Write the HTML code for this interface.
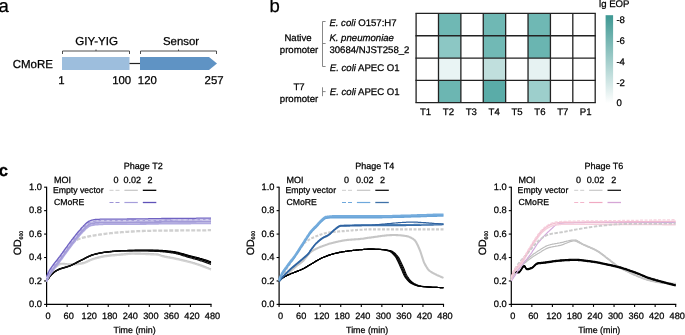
<!DOCTYPE html>
<html><head><meta charset="utf-8"><style>
html,body{margin:0;padding:0;background:#fff;width:685px;height:335px;overflow:hidden}
svg{display:block;will-change:transform}
text{font-family:"Liberation Sans",sans-serif;text-rendering:geometricPrecision;stroke:currentColor;stroke-width:0.25px;stroke-linejoin:round}
</style></head><body>
<svg width="685" height="335" viewBox="0 0 685 335">
<rect width="685" height="335" fill="#fff"/>
<text x="-1.5" y="12" font-size="18.5" text-anchor="start" fill="#000" >a</text>
<text x="52.9" y="68.4" font-size="11.5" text-anchor="end" fill="#000" >CMoRE</text>
<rect x="62" y="57" width="67.5" height="13" fill="#9dbedd"/>
<line x1="129.5" y1="63.5" x2="140" y2="63.5" stroke="#222" stroke-width="1.2" />
<path d="M140,57 H209 L217,63.5 L209,70 H140 Z" fill="#5f93c4"/>
<path d="M62.5,54 V51 H129.5 V54 M96,51 V49.5" fill="none" stroke="#3a3a3a" stroke-width="0.9"/>
<path d="M140.5,54 V51 H216.5 V54 M178.5,51 V49.5" fill="none" stroke="#3a3a3a" stroke-width="0.9"/>
<text x="96.6" y="45.1" font-size="11.6" text-anchor="middle" fill="#000" >GIY-YIG</text>
<text x="181" y="45.1" font-size="11.4" text-anchor="middle" fill="#000" >Sensor</text>
<text x="61.5" y="84.1" font-size="11.4" text-anchor="middle" fill="#000" >1</text>
<text x="131.2" y="84.1" font-size="11.4" text-anchor="end" fill="#000" >100</text>
<text x="137.8" y="84.1" font-size="11.4" text-anchor="start" fill="#000" >120</text>
<text x="223.6" y="84.1" font-size="11.4" text-anchor="end" fill="#000" >257</text>
<text x="269.5" y="12.2" font-size="18.5" text-anchor="start" fill="#000" >b</text>
<text x="298" y="41.2" font-size="9.6" text-anchor="middle" fill="#000" >Native</text>
<text x="299" y="53.4" font-size="9.6" text-anchor="middle" fill="#000" >promoter</text>
<text x="299" y="90.3" font-size="9.6" text-anchor="middle" fill="#000" >T7</text>
<text x="299" y="102" font-size="9.6" text-anchor="middle" fill="#000" >promoter</text>
<path d="M325.6,21.5 H322.5 V66.5 H325.6 M322.5,43.5 H325.6 M322.5,87.3 V96.2 M322.5,91.6 H325.6" fill="none" stroke="#7a7a7a" stroke-width="0.9"/>
<text x="329.4" y="26.3" font-size="9.6"><tspan font-style="italic">E. coli</tspan> O157:H7</text>
<text x="329.4" y="41.0" font-size="9.6" font-style="italic">K. pneumoniae</text>
<text x="329.4" y="53.0" font-size="9.6">30684/NJST258_2</text>
<text x="329.8" y="70.6" font-size="9.6"><tspan font-style="italic">E. coli</tspan> APEC O1</text>
<text x="329.8" y="94.8" font-size="9.6"><tspan font-style="italic">E. coli</tspan> APEC O1</text>
<rect x="438.49" y="13.40" width="22.39" height="22.32" fill="#6fb8b4"/>
<rect x="438.49" y="35.73" width="22.39" height="22.32" fill="#8cc7c4"/>
<rect x="438.49" y="58.05" width="22.39" height="22.32" fill="#e9f4f4"/>
<rect x="438.49" y="80.38" width="22.39" height="22.32" fill="#6cb6b2"/>
<rect x="483.26" y="13.40" width="22.39" height="22.32" fill="#6fb8b4"/>
<rect x="483.26" y="35.73" width="22.39" height="22.32" fill="#71b9b5"/>
<rect x="483.26" y="58.05" width="22.39" height="22.32" fill="#c0dfdd"/>
<rect x="483.26" y="80.38" width="22.39" height="22.32" fill="#5aaca8"/>
<rect x="528.04" y="13.40" width="22.39" height="22.32" fill="#6fb8b4"/>
<rect x="528.04" y="35.73" width="22.39" height="22.32" fill="#6ab5b1"/>
<rect x="528.04" y="58.05" width="22.39" height="22.32" fill="#e6f2f2"/>
<rect x="528.04" y="80.38" width="22.39" height="22.32" fill="#9dcfcc"/>
<line x1="416.10" y1="13.4" x2="416.10" y2="102.7" stroke="#222" stroke-width="1.3" />
<line x1="438.49" y1="13.4" x2="438.49" y2="102.7" stroke="#222" stroke-width="1.3" />
<line x1="460.88" y1="13.4" x2="460.88" y2="102.7" stroke="#222" stroke-width="1.3" />
<line x1="483.26" y1="13.4" x2="483.26" y2="102.7" stroke="#222" stroke-width="1.3" />
<line x1="505.65" y1="13.4" x2="505.65" y2="102.7" stroke="#222" stroke-width="1.3" />
<line x1="528.04" y1="13.4" x2="528.04" y2="102.7" stroke="#222" stroke-width="1.3" />
<line x1="550.43" y1="13.4" x2="550.43" y2="102.7" stroke="#222" stroke-width="1.3" />
<line x1="572.81" y1="13.4" x2="572.81" y2="102.7" stroke="#222" stroke-width="1.3" />
<line x1="595.20" y1="13.4" x2="595.20" y2="102.7" stroke="#222" stroke-width="1.3" />
<line x1="415.45000000000005" y1="13.40" x2="595.85" y2="13.40" stroke="#222" stroke-width="1.3" />
<line x1="415.45000000000005" y1="35.73" x2="595.85" y2="35.73" stroke="#222" stroke-width="1.3" />
<line x1="415.45000000000005" y1="58.05" x2="595.85" y2="58.05" stroke="#222" stroke-width="1.3" />
<line x1="415.45000000000005" y1="80.38" x2="595.85" y2="80.38" stroke="#222" stroke-width="1.3" />
<line x1="415.45000000000005" y1="102.70" x2="595.85" y2="102.70" stroke="#222" stroke-width="1.3" />
<text x="425.50" y="114.5" font-size="9.6" text-anchor="middle" fill="#000" >T1</text>
<text x="448.39" y="114.5" font-size="9.6" text-anchor="middle" fill="#000" >T2</text>
<text x="471.28" y="114.5" font-size="9.6" text-anchor="middle" fill="#000" >T3</text>
<text x="494.17" y="114.5" font-size="9.6" text-anchor="middle" fill="#000" >T4</text>
<text x="517.06" y="114.5" font-size="9.6" text-anchor="middle" fill="#000" >T5</text>
<text x="539.95" y="114.5" font-size="9.6" text-anchor="middle" fill="#000" >T6</text>
<text x="562.84" y="114.5" font-size="9.6" text-anchor="middle" fill="#000" >T7</text>
<text x="585.73" y="114.5" font-size="9.6" text-anchor="middle" fill="#000" >P1</text>
<defs><linearGradient id="cb" x1="0" y1="0" x2="0" y2="1"><stop offset="0" stop-color="#3e9893"/><stop offset="1" stop-color="#ffffff"/></linearGradient></defs>
<rect x="605.6" y="15.2" width="7.5" height="88" fill="url(#cb)"/>
<text x="616.4" y="23.1" font-size="9.6" text-anchor="start" fill="#000" >-8</text>
<text x="616.4" y="43.9" font-size="9.6" text-anchor="start" fill="#000" >-6</text>
<text x="616.4" y="64.7" font-size="9.6" text-anchor="start" fill="#000" >-4</text>
<text x="616.4" y="85.5" font-size="9.6" text-anchor="start" fill="#000" >-2</text>
<text x="616.4" y="106.3" font-size="9.6" text-anchor="start" fill="#000" >0</text>
<text x="599" y="7.1" font-size="9.6" text-anchor="start" fill="#000" >lg EOP</text>
<text x="-1.3" y="175.8" font-size="16.8" text-anchor="start" fill="#000" font-weight="bold">c</text>
<line x1="46.6" y1="186.7" x2="46.6" y2="305.0" stroke="#000" stroke-width="1.2" />
<line x1="46.0" y1="304.4" x2="211.6" y2="304.4" stroke="#000" stroke-width="1.2" />
<line x1="44.1" y1="304.40" x2="46.6" y2="304.40" stroke="#000" stroke-width="1.1" />
<text x="42.0" y="307.10" font-size="9.3" text-anchor="end" fill="#000" >0.0</text>
<line x1="44.1" y1="280.96" x2="46.6" y2="280.96" stroke="#000" stroke-width="1.1" />
<text x="42.0" y="283.66" font-size="9.3" text-anchor="end" fill="#000" >0.2</text>
<line x1="44.1" y1="257.52" x2="46.6" y2="257.52" stroke="#000" stroke-width="1.1" />
<text x="42.0" y="260.22" font-size="9.3" text-anchor="end" fill="#000" >0.4</text>
<line x1="44.1" y1="234.08" x2="46.6" y2="234.08" stroke="#000" stroke-width="1.1" />
<text x="42.0" y="236.78" font-size="9.3" text-anchor="end" fill="#000" >0.6</text>
<line x1="44.1" y1="210.64" x2="46.6" y2="210.64" stroke="#000" stroke-width="1.1" />
<text x="42.0" y="213.34" font-size="9.3" text-anchor="end" fill="#000" >0.8</text>
<line x1="44.1" y1="187.20" x2="46.6" y2="187.20" stroke="#000" stroke-width="1.1" />
<text x="42.0" y="189.90" font-size="9.3" text-anchor="end" fill="#000" >1.0</text>
<line x1="46.60" y1="304.4" x2="46.60" y2="306.9" stroke="#000" stroke-width="1.1" />
<text x="48.10" y="318.8" font-size="9.2" text-anchor="middle" fill="#000" >0</text>
<line x1="67.15" y1="304.4" x2="67.15" y2="306.9" stroke="#000" stroke-width="1.1" />
<text x="68.65" y="318.8" font-size="9.2" text-anchor="middle" fill="#000" >60</text>
<line x1="87.70" y1="304.4" x2="87.70" y2="306.9" stroke="#000" stroke-width="1.1" />
<text x="89.20" y="318.8" font-size="9.2" text-anchor="middle" fill="#000" >120</text>
<line x1="108.25" y1="304.4" x2="108.25" y2="306.9" stroke="#000" stroke-width="1.1" />
<text x="109.75" y="318.8" font-size="9.2" text-anchor="middle" fill="#000" >180</text>
<line x1="128.80" y1="304.4" x2="128.80" y2="306.9" stroke="#000" stroke-width="1.1" />
<text x="130.30" y="318.8" font-size="9.2" text-anchor="middle" fill="#000" >240</text>
<line x1="149.35" y1="304.4" x2="149.35" y2="306.9" stroke="#000" stroke-width="1.1" />
<text x="150.85" y="318.8" font-size="9.2" text-anchor="middle" fill="#000" >300</text>
<line x1="169.90" y1="304.4" x2="169.90" y2="306.9" stroke="#000" stroke-width="1.1" />
<text x="171.40" y="318.8" font-size="9.2" text-anchor="middle" fill="#000" >360</text>
<line x1="190.45" y1="304.4" x2="190.45" y2="306.9" stroke="#000" stroke-width="1.1" />
<text x="191.95" y="318.8" font-size="9.2" text-anchor="middle" fill="#000" >420</text>
<line x1="211.00" y1="304.4" x2="211.00" y2="306.9" stroke="#000" stroke-width="1.1" />
<text x="212.50" y="318.8" font-size="9.2" text-anchor="middle" fill="#000" >480</text>
<text x="134.60" y="333" font-size="8.9" text-anchor="middle" fill="#000" >Time (min)</text>
<text transform="translate(21.0,255.3) rotate(-90)" font-size="10.6">OD<tspan font-size="5.2" dy="1.8">600</tspan></text>
<path d="M46.6,281.0 L47.3,279.5 L48.0,278.0 L48.7,276.5 L49.3,275.1 L50.0,273.9 L50.7,272.9 L51.4,271.9 L52.1,270.9 L52.8,269.9 L53.5,269.1 L54.1,268.2 L54.8,267.5 L55.5,266.8 L56.2,266.2 L56.9,265.7 L57.6,265.3 L58.2,264.8 L58.9,264.4 L59.6,264.0 L60.3,263.7 L61.0,263.5 L61.7,263.5 L62.4,263.5 L63.0,263.6 L63.7,263.6 L64.4,263.7 L65.1,263.8 L65.8,263.9 L66.5,263.9 L67.2,264.0 L67.8,264.1 L68.5,264.2 L69.2,264.2 L69.9,264.2 L70.6,264.2 L71.3,264.2 L71.9,264.2 L72.6,264.1 L73.3,264.1 L74.0,264.0 L74.7,264.0 L75.4,263.9 L76.1,263.9 L76.7,263.8 L77.4,263.7 L78.1,263.6 L78.8,263.6 L79.5,263.5 L80.2,263.4 L80.8,263.3 L81.5,263.2 L82.2,263.1 L82.9,262.9 L83.6,262.8 L84.3,262.5 L85.0,262.3 L85.6,262.0 L86.3,261.7 L87.0,261.4 L87.7,261.1 L88.4,260.8 L89.1,260.4 L89.8,260.1 L90.4,259.8 L91.1,259.5 L91.8,259.2 L92.5,258.9 L93.2,258.7 L93.9,258.5 L94.6,258.3 L95.2,258.1 L95.9,257.9 L96.6,257.7 L97.3,257.5 L98.0,257.3 L98.7,257.2 L99.3,257.0 L100.0,256.9 L100.7,256.7 L101.4,256.5 L102.1,256.4 L102.8,256.3 L103.5,256.1 L104.1,256.0 L104.8,255.9 L105.5,255.8 L106.2,255.7 L106.9,255.6 L107.6,255.5 L108.2,255.5 L108.9,255.4 L109.6,255.3 L110.3,255.2 L111.0,255.1 L111.7,255.1 L112.4,255.0 L113.0,254.9 L113.7,254.9 L114.4,254.8 L115.1,254.8 L115.8,254.7 L116.5,254.6 L117.2,254.6 L117.8,254.5 L118.5,254.5 L119.2,254.4 L119.9,254.4 L120.6,254.3 L121.3,254.2 L122.0,254.2 L122.6,254.1 L123.3,254.1 L124.0,254.0 L124.7,253.9 L125.4,253.9 L126.1,253.8 L126.7,253.7 L127.4,253.6 L128.1,253.6 L128.8,253.5 L129.5,253.4 L130.2,253.4 L130.9,253.3 L131.5,253.3 L132.2,253.3 L132.9,253.3 L133.6,253.3 L134.3,253.3 L135.0,253.3 L135.7,253.3 L136.3,253.3 L137.0,253.4 L137.7,253.4 L138.4,253.4 L139.1,253.4 L139.8,253.4 L140.4,253.4 L141.1,253.5 L141.8,253.5 L142.5,253.5 L143.2,253.5 L143.9,253.6 L144.6,253.6 L145.2,253.6 L145.9,253.6 L146.6,253.7 L147.3,253.7 L148.0,253.7 L148.7,253.7 L149.4,253.8 L150.0,253.8 L150.7,253.8 L151.4,253.8 L152.1,253.9 L152.8,253.9 L153.5,253.9 L154.1,254.0 L154.8,254.0 L155.5,254.0 L156.2,254.1 L156.9,254.1 L157.6,254.2 L158.3,254.3 L158.9,254.5 L159.6,254.7 L160.3,255.0 L161.0,255.3 L161.7,255.5 L162.4,255.8 L163.1,255.9 L163.7,256.1 L164.4,256.2 L165.1,256.4 L165.8,256.5 L166.5,256.6 L167.2,256.8 L167.8,256.9 L168.5,257.0 L169.2,257.1 L169.9,257.2 L170.6,257.4 L171.3,257.5 L172.0,257.6 L172.6,257.8 L173.3,257.9 L174.0,258.0 L174.7,258.2 L175.4,258.3 L176.1,258.5 L176.8,258.6 L177.4,258.8 L178.1,258.9 L178.8,259.1 L179.5,259.2 L180.2,259.4 L180.9,259.5 L181.5,259.7 L182.2,259.8 L182.9,260.0 L183.6,260.2 L184.3,260.3 L185.0,260.5 L185.7,260.7 L186.3,260.8 L187.0,261.0 L187.7,261.2 L188.4,261.4 L189.1,261.5 L189.8,261.7 L190.5,261.9 L191.1,262.1 L191.8,262.3 L192.5,262.5 L193.2,262.7 L193.9,262.9 L194.6,263.1 L195.2,263.3 L195.9,263.5 L196.6,263.8 L197.3,264.0 L198.0,264.2 L198.7,264.4 L199.4,264.7 L200.0,264.9 L200.7,265.1 L201.4,265.4 L202.1,265.6 L202.8,265.9 L203.5,266.1 L204.2,266.4 L204.8,266.7 L205.5,266.9 L206.2,267.2 L206.9,267.5 L207.6,267.7 L208.3,268.0 L208.9,268.3 L209.6,268.6 L210.3,268.8 L211.0,269.1" fill="none" stroke="#c8c8c8" stroke-width="1.7" stroke-linejoin="round" />
<path d="M46.6,281.9 L47.3,280.4 L48.0,278.9 L48.7,277.4 L49.3,276.1 L50.0,274.9 L50.7,273.8 L51.4,272.8 L52.1,271.8 L52.8,270.9 L53.5,270.0 L54.1,269.2 L54.8,268.4 L55.5,267.8 L56.2,267.2 L56.9,266.7 L57.6,266.2 L58.2,265.7 L58.9,265.3 L59.6,264.9 L60.3,264.7 L61.0,264.5 L61.7,264.4 L62.4,264.5 L63.0,264.5 L63.7,264.6 L64.4,264.6 L65.1,264.7 L65.8,264.8 L66.5,264.9 L67.2,265.0 L67.8,265.0 L68.5,265.1 L69.2,265.1 L69.9,265.1 L70.6,265.1 L71.3,265.1 L71.9,265.1 L72.6,265.1 L73.3,265.0 L74.0,265.0 L74.7,264.9 L75.4,264.9 L76.1,264.8 L76.7,264.7 L77.4,264.7 L78.1,264.6 L78.8,264.5 L79.5,264.4 L80.2,264.3 L80.8,264.2 L81.5,264.1 L82.2,264.0 L82.9,263.9 L83.6,263.7 L84.3,263.5 L85.0,263.2 L85.6,263.0 L86.3,262.7 L87.0,262.4 L87.7,262.0 L88.4,261.7 L89.1,261.4 L89.8,261.0 L90.4,260.7 L91.1,260.4 L91.8,260.1 L92.5,259.9 L93.2,259.6 L93.9,259.4 L94.6,259.2 L95.2,259.0 L95.9,258.8 L96.6,258.6 L97.3,258.5 L98.0,258.3 L98.7,258.1 L99.3,257.9 L100.0,257.8 L100.7,257.6 L101.4,257.5 L102.1,257.3 L102.8,257.2 L103.5,257.1 L104.1,257.0 L104.8,256.9 L105.5,256.7 L106.2,256.7 L106.9,256.6 L107.6,256.5 L108.2,256.4 L108.9,256.3 L109.6,256.2 L110.3,256.2 L111.0,256.1 L111.7,256.0 L112.4,255.9 L113.0,255.9 L113.7,255.8 L114.4,255.8 L115.1,255.7 L115.8,255.6 L116.5,255.6 L117.2,255.5 L117.8,255.5 L118.5,255.4 L119.2,255.3 L119.9,255.3 L120.6,255.2 L121.3,255.2 L122.0,255.1 L122.6,255.1 L123.3,255.0 L124.0,254.9 L124.7,254.9 L125.4,254.8 L126.1,254.7 L126.7,254.6 L127.4,254.6 L128.1,254.5 L128.8,254.4 L129.5,254.4 L130.2,254.3 L130.9,254.3 L131.5,254.2 L132.2,254.2 L132.9,254.2 L133.6,254.2 L134.3,254.2 L135.0,254.3 L135.7,254.3 L136.3,254.3 L137.0,254.3 L137.7,254.3 L138.4,254.3 L139.1,254.3 L139.8,254.4 L140.4,254.4 L141.1,254.4 L141.8,254.4 L142.5,254.4 L143.2,254.5 L143.9,254.5 L144.6,254.5 L145.2,254.5 L145.9,254.6 L146.6,254.6 L147.3,254.6 L148.0,254.7 L148.7,254.7 L149.4,254.7 L150.0,254.7 L150.7,254.8 L151.4,254.8 L152.1,254.8 L152.8,254.8 L153.5,254.9 L154.1,254.9 L154.8,254.9 L155.5,255.0 L156.2,255.0 L156.9,255.1 L157.6,255.1 L158.3,255.2 L158.9,255.4 L159.6,255.6 L160.3,255.9 L161.0,256.2 L161.7,256.5 L162.4,256.7 L163.1,256.9 L163.7,257.0 L164.4,257.2 L165.1,257.3 L165.8,257.4 L166.5,257.6 L167.2,257.7 L167.8,257.8 L168.5,257.9 L169.2,258.1 L169.9,258.2 L170.6,258.3 L171.3,258.4 L172.0,258.6 L172.6,258.7 L173.3,258.8 L174.0,259.0 L174.7,259.1 L175.4,259.3 L176.1,259.4 L176.8,259.6 L177.4,259.7 L178.1,259.9 L178.8,260.0 L179.5,260.2 L180.2,260.3 L180.9,260.5 L181.5,260.6 L182.2,260.8 L182.9,260.9 L183.6,261.1 L184.3,261.3 L185.0,261.4 L185.7,261.6 L186.3,261.8 L187.0,261.9 L187.7,262.1 L188.4,262.3 L189.1,262.5 L189.8,262.7 L190.5,262.8 L191.1,263.0 L191.8,263.2 L192.5,263.4 L193.2,263.6 L193.9,263.8 L194.6,264.0 L195.2,264.3 L195.9,264.5 L196.6,264.7 L197.3,264.9 L198.0,265.1 L198.7,265.4 L199.4,265.6 L200.0,265.8 L200.7,266.1 L201.4,266.3 L202.1,266.6 L202.8,266.8 L203.5,267.1 L204.2,267.3 L204.8,267.6 L205.5,267.9 L206.2,268.1 L206.9,268.4 L207.6,268.7 L208.3,269.0 L208.9,269.2 L209.6,269.5 L210.3,269.8 L211.0,270.0" fill="none" stroke="#d4d4d4" stroke-width="1.2" stroke-linejoin="round" />
<path d="M46.6,278.6 L47.3,277.2 L48.0,275.7 L48.7,274.5 L49.3,273.4 L50.0,272.3 L50.7,271.3 L51.4,270.4 L52.1,269.4 L52.8,268.5 L53.5,267.7 L54.1,266.8 L54.8,266.0 L55.5,265.1 L56.2,264.3 L56.9,263.4 L57.6,262.6 L58.2,261.7 L58.9,260.8 L59.6,259.9 L60.3,258.9 L61.0,257.9 L61.7,256.9 L62.4,255.8 L63.0,254.7 L63.7,253.7 L64.4,252.6 L65.1,251.6 L65.8,250.6 L66.5,249.6 L67.2,248.6 L67.8,247.7 L68.5,246.9 L69.2,246.2 L69.9,245.5 L70.6,244.8 L71.3,244.1 L71.9,243.5 L72.6,242.9 L73.3,242.3 L74.0,241.7 L74.7,241.2 L75.4,240.7 L76.1,240.3 L76.7,239.9 L77.4,239.6 L78.1,239.3 L78.8,239.0 L79.5,238.8 L80.2,238.5 L80.8,238.3 L81.5,238.1 L82.2,237.9 L82.9,237.7 L83.6,237.6 L84.3,237.4 L85.0,237.2 L85.6,237.1 L86.3,236.9 L87.0,236.8 L87.7,236.6 L88.4,236.5 L89.1,236.4 L89.8,236.2 L90.4,236.1 L91.1,236.0 L91.8,235.8 L92.5,235.7 L93.2,235.6 L93.9,235.5 L94.6,235.4 L95.2,235.3 L95.9,235.1 L96.6,235.0 L97.3,234.9 L98.0,234.8 L98.7,234.7 L99.3,234.6 L100.0,234.5 L100.7,234.5 L101.4,234.4 L102.1,234.3 L102.8,234.2 L103.5,234.1 L104.1,234.0 L104.8,233.9 L105.5,233.8 L106.2,233.7 L106.9,233.6 L107.6,233.6 L108.2,233.5 L108.9,233.4 L109.6,233.3 L110.3,233.2 L111.0,233.2 L111.7,233.1 L112.4,233.0 L113.0,232.9 L113.7,232.9 L114.4,232.8 L115.1,232.7 L115.8,232.7 L116.5,232.6 L117.2,232.5 L117.8,232.5 L118.5,232.4 L119.2,232.4 L119.9,232.3 L120.6,232.3 L121.3,232.2 L122.0,232.2 L122.6,232.1 L123.3,232.1 L124.0,232.0 L124.7,232.0 L125.4,231.9 L126.1,231.9 L126.7,231.8 L127.4,231.8 L128.1,231.8 L128.8,231.7 L129.5,231.7 L130.2,231.6 L130.9,231.6 L131.5,231.5 L132.2,231.5 L132.9,231.5 L133.6,231.4 L134.3,231.4 L135.0,231.3 L135.7,231.3 L136.3,231.3 L137.0,231.2 L137.7,231.2 L138.4,231.2 L139.1,231.1 L139.8,231.1 L140.4,231.1 L141.1,231.0 L141.8,231.0 L142.5,231.0 L143.2,231.0 L143.9,230.9 L144.6,230.9 L145.2,230.9 L145.9,230.9 L146.6,230.9 L147.3,230.8 L148.0,230.8 L148.7,230.8 L149.4,230.8 L150.0,230.8 L150.7,230.8 L151.4,230.8 L152.1,230.8 L152.8,230.7 L153.5,230.7 L154.1,230.7 L154.8,230.7 L155.5,230.7 L156.2,230.7 L156.9,230.7 L157.6,230.7 L158.3,230.7 L158.9,230.7 L159.6,230.6 L160.3,230.6 L161.0,230.6 L161.7,230.6 L162.4,230.6 L163.1,230.6 L163.7,230.6 L164.4,230.6 L165.1,230.6 L165.8,230.6 L166.5,230.6 L167.2,230.6 L167.8,230.6 L168.5,230.5 L169.2,230.5 L169.9,230.5 L170.6,230.5 L171.3,230.5 L172.0,230.5 L172.6,230.5 L173.3,230.5 L174.0,230.5 L174.7,230.5 L175.4,230.5 L176.1,230.5 L176.8,230.5 L177.4,230.5 L178.1,230.5 L178.8,230.5 L179.5,230.4 L180.2,230.4 L180.9,230.4 L181.5,230.4 L182.2,230.4 L182.9,230.4 L183.6,230.4 L184.3,230.4 L185.0,230.4 L185.7,230.4 L186.3,230.4 L187.0,230.4 L187.7,230.4 L188.4,230.4 L189.1,230.4 L189.8,230.4 L190.5,230.4 L191.1,230.4 L191.8,230.4 L192.5,230.4 L193.2,230.4 L193.9,230.3 L194.6,230.3 L195.2,230.3 L195.9,230.3 L196.6,230.3 L197.3,230.3 L198.0,230.3 L198.7,230.3 L199.4,230.3 L200.0,230.3 L200.7,230.3 L201.4,230.3 L202.1,230.3 L202.8,230.3 L203.5,230.3 L204.2,230.3 L204.8,230.3 L205.5,230.3 L206.2,230.3 L206.9,230.2 L207.6,230.2 L208.3,230.2 L208.9,230.2 L209.6,230.2 L210.3,230.2 L211.0,230.2" fill="none" stroke="#d0d0d0" stroke-width="2.3" stroke-linejoin="round" stroke-dasharray="4,1.5"/>
<path d="M48.0,279.2 L48.7,278.1 L49.3,277.0 L50.0,276.2 L50.7,275.4 L51.4,274.7 L52.1,274.0 L52.8,273.4 L53.5,272.8 L54.1,272.2 L54.8,271.7 L55.5,271.2 L56.2,270.8 L56.9,270.4 L57.6,270.0 L58.2,269.7 L58.9,269.4 L59.6,269.1 L60.3,268.8 L61.0,268.6 L61.7,268.4 L62.4,268.1 L63.0,267.9 L63.7,267.8 L64.4,267.6 L65.1,267.4 L65.8,267.2 L66.5,267.0 L67.2,266.8 L67.8,266.6 L68.5,266.3 L69.2,266.1 L69.9,265.8 L70.6,265.6 L71.3,265.3 L71.9,264.9 L72.6,264.6 L73.3,264.3 L74.0,263.9 L74.7,263.6 L75.4,263.2 L76.1,262.9 L76.7,262.5 L77.4,262.1 L78.1,261.8 L78.8,261.4 L79.5,261.1 L80.2,260.7 L80.8,260.4 L81.5,260.0 L82.2,259.7 L82.9,259.4 L83.6,259.0 L84.3,258.7 L85.0,258.3 L85.6,258.0 L86.3,257.6 L87.0,257.3 L87.7,257.0 L88.4,256.6 L89.1,256.3 L89.8,256.0 L90.4,255.7 L91.1,255.4 L91.8,255.1 L92.5,254.9 L93.2,254.7 L93.9,254.5 L94.6,254.3 L95.2,254.1 L95.9,253.9 L96.6,253.8 L97.3,253.6 L98.0,253.5 L98.7,253.3 L99.3,253.2 L100.0,253.0 L100.7,252.9 L101.4,252.8 L102.1,252.7 L102.8,252.6 L103.5,252.5 L104.1,252.4 L104.8,252.3 L105.5,252.2 L106.2,252.1 L106.9,252.0 L107.6,251.9 L108.2,251.9 L108.9,251.8 L109.6,251.7 L110.3,251.6 L111.0,251.6 L111.7,251.5 L112.4,251.4 L113.0,251.4 L113.7,251.3 L114.4,251.2 L115.1,251.2 L115.8,251.1 L116.5,251.1 L117.2,251.0 L117.8,251.0 L118.5,250.9 L119.2,250.9 L119.9,250.8 L120.6,250.8 L121.3,250.7 L122.0,250.7 L122.6,250.7 L123.3,250.6 L124.0,250.6 L124.7,250.6 L125.4,250.6 L126.1,250.5 L126.7,250.5 L127.4,250.5 L128.1,250.5 L128.8,250.4 L129.5,250.4 L130.2,250.4 L130.9,250.4 L131.5,250.3 L132.2,250.3 L132.9,250.3 L133.6,250.3 L134.3,250.3 L135.0,250.2 L135.7,250.2 L136.3,250.2 L137.0,250.2 L137.7,250.2 L138.4,250.2 L139.1,250.2 L139.8,250.2 L140.4,250.2 L141.1,250.2 L141.8,250.2 L142.5,250.2 L143.2,250.2 L143.9,250.2 L144.6,250.2 L145.2,250.2 L145.9,250.2 L146.6,250.2 L147.3,250.2 L148.0,250.2 L148.7,250.2 L149.4,250.2 L150.0,250.2 L150.7,250.2 L151.4,250.2 L152.1,250.2 L152.8,250.2 L153.5,250.2 L154.1,250.2 L154.8,250.2 L155.5,250.2 L156.2,250.2 L156.9,250.2 L157.6,250.2 L158.3,250.2 L158.9,250.3 L159.6,250.3 L160.3,250.3 L161.0,250.3 L161.7,250.4 L162.4,250.4 L163.1,250.5 L163.7,250.5 L164.4,250.6 L165.1,250.6 L165.8,250.7 L166.5,250.8 L167.2,250.8 L167.8,250.9 L168.5,251.0 L169.2,251.0 L169.9,251.1 L170.6,251.2 L171.3,251.3 L172.0,251.3 L172.6,251.4 L173.3,251.5 L174.0,251.6 L174.7,251.7 L175.4,251.8 L176.1,252.0 L176.8,252.1 L177.4,252.3 L178.1,252.4 L178.8,252.6 L179.5,252.8 L180.2,253.0 L180.9,253.2 L181.5,253.3 L182.2,253.5 L182.9,253.7 L183.6,253.9 L184.3,254.1 L185.0,254.3 L185.7,254.5 L186.3,254.7 L187.0,254.9 L187.7,255.1 L188.4,255.3 L189.1,255.5 L189.8,255.6 L190.5,255.8 L191.1,256.0 L191.8,256.2 L192.5,256.3 L193.2,256.5 L193.9,256.7 L194.6,256.8 L195.2,257.0 L195.9,257.2 L196.6,257.4 L197.3,257.5 L198.0,257.7 L198.7,257.9 L199.4,258.1 L200.0,258.3 L200.7,258.5 L201.4,258.7 L202.1,258.9 L202.8,259.1 L203.5,259.3 L204.2,259.5 L204.8,259.7 L205.5,259.9 L206.2,260.2 L206.9,260.4 L207.6,260.6 L208.3,260.8 L208.9,261.1 L209.6,261.3 L210.3,261.5 L211.0,261.7" fill="none" stroke="#000" stroke-width="1.2" stroke-linejoin="round" />
<path d="M48.0,279.2 L48.7,278.1 L49.3,277.0 L50.0,276.2 L50.7,275.4 L51.4,274.7 L52.1,274.0 L52.8,273.4 L53.5,272.8 L54.1,272.2 L54.8,271.7 L55.5,271.2 L56.2,270.8 L56.9,270.4 L57.6,270.0 L58.2,269.7 L58.9,269.4 L59.6,269.1 L60.3,268.8 L61.0,268.6 L61.7,268.4 L62.4,268.1 L63.0,267.9 L63.7,267.8 L64.4,267.6 L65.1,267.4 L65.8,267.2 L66.5,267.0 L67.2,266.8 L67.8,266.6 L68.5,266.3 L69.2,266.1 L69.9,265.8 L70.6,265.6 L71.3,265.3 L71.9,264.9 L72.6,264.6 L73.3,264.3 L74.0,263.9 L74.7,263.6 L75.4,263.2 L76.1,262.9 L76.7,262.5 L77.4,262.1 L78.1,261.8 L78.8,261.4 L79.5,261.1 L80.2,260.7 L80.8,260.4 L81.5,260.0 L82.2,259.7 L82.9,259.4 L83.6,259.0 L84.3,258.7 L85.0,258.3 L85.6,258.0 L86.3,257.6 L87.0,257.3 L87.7,257.0 L88.4,256.6 L89.1,256.3 L89.8,256.0 L90.4,255.7 L91.1,255.4 L91.8,255.1 L92.5,254.9 L93.2,254.7 L93.9,254.5 L94.6,254.3 L95.2,254.1 L95.9,253.9 L96.6,253.8 L97.3,253.6 L98.0,253.5 L98.7,253.3 L99.3,253.2 L100.0,253.0 L100.7,252.9 L101.4,252.8 L102.1,252.7 L102.8,252.5 L103.5,252.4 L104.1,252.3 L104.8,252.3 L105.5,252.2 L106.2,252.1 L106.9,252.0 L107.6,251.9 L108.2,251.9 L108.9,251.8 L109.6,251.7 L110.3,251.6 L111.0,251.6 L111.7,251.5 L112.4,251.4 L113.0,251.4 L113.7,251.3 L114.4,251.3 L115.1,251.2 L115.8,251.2 L116.5,251.1 L117.2,251.1 L117.8,251.0 L118.5,251.0 L119.2,250.9 L119.9,250.9 L120.6,250.8 L121.3,250.8 L122.0,250.8 L122.6,250.8 L123.3,250.7 L124.0,250.7 L124.7,250.7 L125.4,250.7 L126.1,250.7 L126.7,250.7 L127.4,250.6 L128.1,250.6 L128.8,250.6 L129.5,250.6 L130.2,250.6 L130.9,250.6 L131.5,250.6 L132.2,250.6 L132.9,250.5 L133.6,250.5 L134.3,250.5 L135.0,250.5 L135.7,250.5 L136.3,250.5 L137.0,250.5 L137.7,250.5 L138.4,250.5 L139.1,250.5 L139.8,250.5 L140.4,250.5 L141.1,250.5 L141.8,250.5 L142.5,250.5 L143.2,250.5 L143.9,250.5 L144.6,250.5 L145.2,250.5 L145.9,250.5 L146.6,250.5 L147.3,250.5 L148.0,250.5 L148.7,250.6 L149.4,250.6 L150.0,250.6 L150.7,250.6 L151.4,250.6 L152.1,250.6 L152.8,250.6 L153.5,250.7 L154.1,250.7 L154.8,250.7 L155.5,250.7 L156.2,250.7 L156.9,250.7 L157.6,250.8 L158.3,250.8 L158.9,250.8 L159.6,250.8 L160.3,250.9 L161.0,250.9 L161.7,251.0 L162.4,251.0 L163.1,251.1 L163.7,251.1 L164.4,251.2 L165.1,251.3 L165.8,251.3 L166.5,251.4 L167.2,251.5 L167.8,251.5 L168.5,251.6 L169.2,251.7 L169.9,251.8 L170.6,251.9 L171.3,252.0 L172.0,252.0 L172.6,252.1 L173.3,252.2 L174.0,252.3 L174.7,252.5 L175.4,252.6 L176.1,252.7 L176.8,252.9 L177.4,253.0 L178.1,253.2 L178.8,253.4 L179.5,253.6 L180.2,253.8 L180.9,254.0 L181.5,254.2 L182.2,254.4 L182.9,254.6 L183.6,254.8 L184.3,255.0 L185.0,255.2 L185.7,255.4 L186.3,255.6 L187.0,255.8 L187.7,256.0 L188.4,256.2 L189.1,256.4 L189.8,256.6 L190.5,256.7 L191.1,256.9 L191.8,257.1 L192.5,257.3 L193.2,257.4 L193.9,257.6 L194.6,257.8 L195.2,258.0 L195.9,258.2 L196.6,258.4 L197.3,258.5 L198.0,258.7 L198.7,258.9 L199.4,259.1 L200.0,259.3 L200.7,259.5 L201.4,259.7 L202.1,259.9 L202.8,260.1 L203.5,260.4 L204.2,260.6 L204.8,260.8 L205.5,261.1 L206.2,261.3 L206.9,261.5 L207.6,261.8 L208.3,262.0 L208.9,262.2 L209.6,262.5 L210.3,262.7 L211.0,262.9" fill="none" stroke="#000" stroke-width="1.6" stroke-linejoin="round" />
<path d="M48.0,279.2 L48.7,278.1 L49.3,277.0 L50.0,276.2 L50.7,275.4 L51.4,274.7 L52.1,274.0 L52.8,273.4 L53.5,272.8 L54.1,272.2 L54.8,271.7 L55.5,271.2 L56.2,270.8 L56.9,270.4 L57.6,270.0 L58.2,269.7 L58.9,269.4 L59.6,269.1 L60.3,268.8 L61.0,268.6 L61.7,268.4 L62.4,268.1 L63.0,267.9 L63.7,267.8 L64.4,267.6 L65.1,267.4 L65.8,267.2 L66.5,267.0 L67.2,266.8 L67.8,266.6 L68.5,266.3 L69.2,266.1 L69.9,265.8 L70.6,265.6 L71.3,265.3 L71.9,264.9 L72.6,264.6 L73.3,264.3 L74.0,263.9 L74.7,263.6 L75.4,263.2 L76.1,262.9 L76.7,262.5 L77.4,262.1 L78.1,261.8 L78.8,261.4 L79.5,261.1 L80.2,260.7 L80.8,260.4 L81.5,260.0 L82.2,259.7 L82.9,259.4 L83.6,259.0 L84.3,258.7 L85.0,258.3 L85.6,258.0 L86.3,257.6 L87.0,257.3 L87.7,257.0 L88.4,256.6 L89.1,256.3 L89.8,256.0 L90.4,255.7 L91.1,255.4 L91.8,255.1 L92.5,254.9 L93.2,254.7 L93.9,254.5 L94.6,254.3 L95.2,254.1 L95.9,253.9 L96.6,253.8 L97.3,253.6 L98.0,253.5 L98.7,253.3 L99.3,253.2 L100.0,253.0 L100.7,252.9 L101.4,252.8 L102.1,252.6 L102.8,252.5 L103.5,252.4 L104.1,252.3 L104.8,252.2 L105.5,252.2 L106.2,252.1 L106.9,252.0 L107.6,251.9 L108.2,251.9 L108.9,251.8 L109.6,251.7 L110.3,251.7 L111.0,251.6 L111.7,251.5 L112.4,251.5 L113.0,251.4 L113.7,251.3 L114.4,251.3 L115.1,251.2 L115.8,251.2 L116.5,251.1 L117.2,251.1 L117.8,251.0 L118.5,251.0 L119.2,251.0 L119.9,250.9 L120.6,250.9 L121.3,250.9 L122.0,250.9 L122.6,250.9 L123.3,250.9 L124.0,250.9 L124.7,250.9 L125.4,250.9 L126.1,250.9 L126.7,250.9 L127.4,250.9 L128.1,250.9 L128.8,250.9 L129.5,250.9 L130.2,250.9 L130.9,250.9 L131.5,250.9 L132.2,250.9 L132.9,250.9 L133.6,250.9 L134.3,250.9 L135.0,250.9 L135.7,250.9 L136.3,250.9 L137.0,250.9 L137.7,250.9 L138.4,250.9 L139.1,250.9 L139.8,250.9 L140.4,250.9 L141.1,250.9 L141.8,250.9 L142.5,250.9 L143.2,250.9 L143.9,250.9 L144.6,250.9 L145.2,250.9 L145.9,250.9 L146.6,250.9 L147.3,251.0 L148.0,251.0 L148.7,251.0 L149.4,251.0 L150.0,251.1 L150.7,251.1 L151.4,251.1 L152.1,251.1 L152.8,251.2 L153.5,251.2 L154.1,251.2 L154.8,251.3 L155.5,251.3 L156.2,251.3 L156.9,251.3 L157.6,251.4 L158.3,251.4 L158.9,251.5 L159.6,251.5 L160.3,251.6 L161.0,251.6 L161.7,251.7 L162.4,251.7 L163.1,251.8 L163.7,251.9 L164.4,251.9 L165.1,252.0 L165.8,252.1 L166.5,252.2 L167.2,252.2 L167.8,252.3 L168.5,252.4 L169.2,252.5 L169.9,252.6 L170.6,252.7 L171.3,252.8 L172.0,252.9 L172.6,253.0 L173.3,253.1 L174.0,253.2 L174.7,253.3 L175.4,253.5 L176.1,253.6 L176.8,253.8 L177.4,254.0 L178.1,254.2 L178.8,254.3 L179.5,254.5 L180.2,254.7 L180.9,254.9 L181.5,255.1 L182.2,255.4 L182.9,255.6 L183.6,255.8 L184.3,256.0 L185.0,256.2 L185.7,256.4 L186.3,256.6 L187.0,256.9 L187.7,257.1 L188.4,257.3 L189.1,257.5 L189.8,257.7 L190.5,257.8 L191.1,258.0 L191.8,258.2 L192.5,258.4 L193.2,258.6 L193.9,258.8 L194.6,259.0 L195.2,259.2 L195.9,259.4 L196.6,259.5 L197.3,259.7 L198.0,259.9 L198.7,260.1 L199.4,260.3 L200.0,260.6 L200.7,260.8 L201.4,261.0 L202.1,261.2 L202.8,261.4 L203.5,261.7 L204.2,261.9 L204.8,262.1 L205.5,262.4 L206.2,262.6 L206.9,262.9 L207.6,263.1 L208.3,263.4 L208.9,263.6 L209.6,263.8 L210.3,264.1 L211.0,264.3" fill="none" stroke="#111" stroke-width="1.2" stroke-linejoin="round" />
<path d="M46.6,281.7 L47.3,279.9 L48.0,278.3 L48.7,276.9 L49.3,275.7 L50.0,274.6 L50.7,273.5 L51.4,272.4 L52.1,271.5 L52.8,270.5 L53.5,269.6 L54.1,268.7 L54.8,267.8 L55.5,267.0 L56.2,266.1 L56.9,265.3 L57.6,264.4 L58.2,263.6 L58.9,262.7 L59.6,261.7 L60.3,260.8 L61.0,259.8 L61.7,258.9 L62.4,257.9 L63.0,257.0 L63.7,256.0 L64.4,255.1 L65.1,254.1 L65.8,253.2 L66.5,252.2 L67.2,251.3 L67.8,250.4 L68.5,249.4 L69.2,248.5 L69.9,247.6 L70.6,246.7 L71.3,245.8 L71.9,244.9 L72.6,244.0 L73.3,243.1 L74.0,242.3 L74.7,241.4 L75.4,240.5 L76.1,239.7 L76.7,238.8 L77.4,238.0 L78.1,237.2 L78.8,236.3 L79.5,235.5 L80.2,234.7 L80.8,234.0 L81.5,233.2 L82.2,232.5 L82.9,231.7 L83.6,231.0 L84.3,230.3 L85.0,229.6 L85.6,228.9 L86.3,228.3 L87.0,227.8 L87.7,227.2 L88.4,226.7 L89.1,226.3 L89.8,225.9 L90.4,225.6 L91.1,225.4 L91.8,225.3 L92.5,225.1 L93.2,225.0 L93.9,224.9 L94.6,224.8 L95.2,224.7 L95.9,224.6 L96.6,224.6 L97.3,224.5 L98.0,224.5 L98.7,224.4 L99.3,224.4 L100.0,224.4 L100.7,224.3 L101.4,224.3 L102.1,224.3 L102.8,224.3 L103.5,224.2 L104.1,224.2 L104.8,224.2 L105.5,224.2 L106.2,224.2 L106.9,224.2 L107.6,224.2 L108.2,224.2 L108.9,224.2 L109.6,224.2 L110.3,224.2 L111.0,224.2 L111.7,224.2 L112.4,224.2 L113.0,224.2 L113.7,224.2 L114.4,224.2 L115.1,224.2 L115.8,224.2 L116.5,224.2 L117.2,224.2 L117.8,224.2 L118.5,224.2 L119.2,224.2 L119.9,224.2 L120.6,224.2 L121.3,224.2 L122.0,224.2 L122.6,224.2 L123.3,224.2 L124.0,224.2 L124.7,224.2 L125.4,224.2 L126.1,224.2 L126.7,224.2 L127.4,224.2 L128.1,224.2 L128.8,224.2 L129.5,224.2 L130.2,224.2 L130.9,224.2 L131.5,224.2 L132.2,224.2 L132.9,224.1 L133.6,224.1 L134.3,224.1 L135.0,224.1 L135.7,224.1 L136.3,224.1 L137.0,224.1 L137.7,224.1 L138.4,224.1 L139.1,224.1 L139.8,224.1 L140.4,224.0 L141.1,224.0 L141.8,224.0 L142.5,224.0 L143.2,224.0 L143.9,224.0 L144.6,224.0 L145.2,224.0 L145.9,224.0 L146.6,223.9 L147.3,223.9 L148.0,223.9 L148.7,223.9 L149.4,223.9 L150.0,223.9 L150.7,223.9 L151.4,223.9 L152.1,223.8 L152.8,223.8 L153.5,223.8 L154.1,223.8 L154.8,223.8 L155.5,223.8 L156.2,223.8 L156.9,223.8 L157.6,223.8 L158.3,223.8 L158.9,223.7 L159.6,223.7 L160.3,223.7 L161.0,223.7 L161.7,223.7 L162.4,223.7 L163.1,223.7 L163.7,223.7 L164.4,223.7 L165.1,223.7 L165.8,223.7 L166.5,223.6 L167.2,223.6 L167.8,223.6 L168.5,223.6 L169.2,223.6 L169.9,223.6 L170.6,223.6 L171.3,223.6 L172.0,223.6 L172.6,223.6 L173.3,223.6 L174.0,223.6 L174.7,223.6 L175.4,223.6 L176.1,223.6 L176.8,223.6 L177.4,223.6 L178.1,223.5 L178.8,223.5 L179.5,223.5 L180.2,223.5 L180.9,223.5 L181.5,223.5 L182.2,223.5 L182.9,223.5 L183.6,223.5 L184.3,223.5 L185.0,223.5 L185.7,223.5 L186.3,223.5 L187.0,223.5 L187.7,223.5 L188.4,223.5 L189.1,223.5 L189.8,223.5 L190.5,223.5 L191.1,223.4 L191.8,223.4 L192.5,223.4 L193.2,223.4 L193.9,223.4 L194.6,223.4 L195.2,223.4 L195.9,223.4 L196.6,223.4 L197.3,223.4 L198.0,223.4 L198.7,223.4 L199.4,223.4 L200.0,223.4 L200.7,223.4 L201.4,223.4 L202.1,223.4 L202.8,223.4 L203.5,223.4 L204.2,223.4 L204.8,223.3 L205.5,223.3 L206.2,223.3 L206.9,223.3 L207.6,223.3 L208.3,223.3 L208.9,223.3 L209.6,223.3 L210.3,223.3 L211.0,223.3" fill="none" stroke="#b0a9e0" stroke-width="1.8" stroke-linejoin="round" />
<path d="M46.6,279.9 L47.3,278.2 L48.0,276.5 L48.7,275.2 L49.3,273.9 L50.0,272.8 L50.7,271.7 L51.4,270.7 L52.1,269.7 L52.8,268.7 L53.5,267.8 L54.1,267.0 L54.8,266.1 L55.5,265.2 L56.2,264.4 L56.9,263.5 L57.6,262.7 L58.2,261.8 L58.9,260.9 L59.6,260.0 L60.3,259.0 L61.0,258.1 L61.7,257.1 L62.4,256.2 L63.0,255.2 L63.7,254.3 L64.4,253.3 L65.1,252.4 L65.8,251.4 L66.5,250.5 L67.2,249.5 L67.8,248.6 L68.5,247.7 L69.2,246.7 L69.9,245.8 L70.6,244.9 L71.3,244.0 L71.9,243.1 L72.6,242.3 L73.3,241.4 L74.0,240.5 L74.7,239.6 L75.4,238.8 L76.1,237.9 L76.7,237.1 L77.4,236.2 L78.1,235.4 L78.8,234.6 L79.5,233.8 L80.2,233.0 L80.8,232.2 L81.5,231.4 L82.2,230.7 L82.9,230.0 L83.6,229.2 L84.3,228.5 L85.0,227.8 L85.6,227.2 L86.3,226.5 L87.0,226.0 L87.7,225.5 L88.4,225.0 L89.1,224.5 L89.8,224.2 L90.4,223.9 L91.1,223.7 L91.8,223.5 L92.5,223.4 L93.2,223.2 L93.9,223.1 L94.6,223.0 L95.2,222.9 L95.9,222.9 L96.6,222.8 L97.3,222.8 L98.0,222.7 L98.7,222.7 L99.3,222.6 L100.0,222.6 L100.7,222.6 L101.4,222.5 L102.1,222.5 L102.8,222.5 L103.5,222.5 L104.1,222.5 L104.8,222.5 L105.5,222.5 L106.2,222.5 L106.9,222.5 L107.6,222.5 L108.2,222.5 L108.9,222.5 L109.6,222.5 L110.3,222.5 L111.0,222.5 L111.7,222.5 L112.4,222.5 L113.0,222.5 L113.7,222.5 L114.4,222.5 L115.1,222.5 L115.8,222.5 L116.5,222.5 L117.2,222.5 L117.8,222.5 L118.5,222.5 L119.2,222.5 L119.9,222.5 L120.6,222.5 L121.3,222.5 L122.0,222.5 L122.6,222.5 L123.3,222.5 L124.0,222.5 L124.7,222.5 L125.4,222.5 L126.1,222.5 L126.7,222.5 L127.4,222.4 L128.1,222.4 L128.8,222.4 L129.5,222.4 L130.2,222.4 L130.9,222.4 L131.5,222.4 L132.2,222.4 L132.9,222.4 L133.6,222.4 L134.3,222.4 L135.0,222.4 L135.7,222.4 L136.3,222.3 L137.0,222.3 L137.7,222.3 L138.4,222.3 L139.1,222.3 L139.8,222.3 L140.4,222.3 L141.1,222.3 L141.8,222.3 L142.5,222.3 L143.2,222.2 L143.9,222.2 L144.6,222.2 L145.2,222.2 L145.9,222.2 L146.6,222.2 L147.3,222.2 L148.0,222.2 L148.7,222.1 L149.4,222.1 L150.0,222.1 L150.7,222.1 L151.4,222.1 L152.1,222.1 L152.8,222.1 L153.5,222.1 L154.1,222.1 L154.8,222.0 L155.5,222.0 L156.2,222.0 L156.9,222.0 L157.6,222.0 L158.3,222.0 L158.9,222.0 L159.6,222.0 L160.3,222.0 L161.0,222.0 L161.7,221.9 L162.4,221.9 L163.1,221.9 L163.7,221.9 L164.4,221.9 L165.1,221.9 L165.8,221.9 L166.5,221.9 L167.2,221.9 L167.8,221.9 L168.5,221.9 L169.2,221.9 L169.9,221.9 L170.6,221.9 L171.3,221.8 L172.0,221.8 L172.6,221.8 L173.3,221.8 L174.0,221.8 L174.7,221.8 L175.4,221.8 L176.1,221.8 L176.8,221.8 L177.4,221.8 L178.1,221.8 L178.8,221.8 L179.5,221.8 L180.2,221.8 L180.9,221.8 L181.5,221.8 L182.2,221.8 L182.9,221.7 L183.6,221.7 L184.3,221.7 L185.0,221.7 L185.7,221.7 L186.3,221.7 L187.0,221.7 L187.7,221.7 L188.4,221.7 L189.1,221.7 L189.8,221.7 L190.5,221.7 L191.1,221.7 L191.8,221.7 L192.5,221.7 L193.2,221.7 L193.9,221.7 L194.6,221.7 L195.2,221.7 L195.9,221.7 L196.6,221.6 L197.3,221.6 L198.0,221.6 L198.7,221.6 L199.4,221.6 L200.0,221.6 L200.7,221.6 L201.4,221.6 L202.1,221.6 L202.8,221.6 L203.5,221.6 L204.2,221.6 L204.8,221.6 L205.5,221.6 L206.2,221.6 L206.9,221.6 L207.6,221.6 L208.3,221.6 L208.9,221.6 L209.6,221.6 L210.3,221.5 L211.0,221.5" fill="none" stroke="#a39bd8" stroke-width="1.9" stroke-linejoin="round" />
<path d="M46.6,278.1 L47.3,276.4 L48.0,274.8 L48.7,273.4 L49.3,272.2 L50.0,271.0 L50.7,270.0 L51.4,268.9 L52.1,267.9 L52.8,267.0 L53.5,266.1 L54.1,265.2 L54.8,264.3 L55.5,263.5 L56.2,262.6 L56.9,261.8 L57.6,260.9 L58.2,260.0 L58.9,259.2 L59.6,258.2 L60.3,257.3 L61.0,256.3 L61.7,255.4 L62.4,254.4 L63.0,253.5 L63.7,252.5 L64.4,251.6 L65.1,250.6 L65.8,249.7 L66.5,248.7 L67.2,247.8 L67.8,246.8 L68.5,245.9 L69.2,245.0 L69.9,244.1 L70.6,243.2 L71.3,242.3 L71.9,241.4 L72.6,240.5 L73.3,239.6 L74.0,238.8 L74.7,237.9 L75.4,237.0 L76.1,236.2 L76.7,235.3 L77.4,234.5 L78.1,233.7 L78.8,232.8 L79.5,232.0 L80.2,231.2 L80.8,230.4 L81.5,229.7 L82.2,228.9 L82.9,228.2 L83.6,227.5 L84.3,226.8 L85.0,226.1 L85.6,225.4 L86.3,224.8 L87.0,224.2 L87.7,223.7 L88.4,223.2 L89.1,222.8 L89.8,222.4 L90.4,222.1 L91.1,221.9 L91.8,221.7 L92.5,221.6 L93.2,221.5 L93.9,221.3 L94.6,221.3 L95.2,221.2 L95.9,221.1 L96.6,221.1 L97.3,221.0 L98.0,221.0 L98.7,220.9 L99.3,220.9 L100.0,220.9 L100.7,220.8 L101.4,220.8 L102.1,220.8 L102.8,220.7 L103.5,220.7 L104.1,220.7 L104.8,220.7 L105.5,220.7 L106.2,220.7 L106.9,220.7 L107.6,220.7 L108.2,220.7 L108.9,220.7 L109.6,220.7 L110.3,220.7 L111.0,220.7 L111.7,220.7 L112.4,220.7 L113.0,220.7 L113.7,220.7 L114.4,220.7 L115.1,220.7 L115.8,220.7 L116.5,220.7 L117.2,220.7 L117.8,220.7 L118.5,220.7 L119.2,220.7 L119.9,220.7 L120.6,220.7 L121.3,220.7 L122.0,220.7 L122.6,220.7 L123.3,220.7 L124.0,220.7 L124.7,220.7 L125.4,220.7 L126.1,220.7 L126.7,220.7 L127.4,220.7 L128.1,220.7 L128.8,220.7 L129.5,220.7 L130.2,220.7 L130.9,220.7 L131.5,220.6 L132.2,220.6 L132.9,220.6 L133.6,220.6 L134.3,220.6 L135.0,220.6 L135.7,220.6 L136.3,220.6 L137.0,220.6 L137.7,220.6 L138.4,220.6 L139.1,220.5 L139.8,220.5 L140.4,220.5 L141.1,220.5 L141.8,220.5 L142.5,220.5 L143.2,220.5 L143.9,220.5 L144.6,220.5 L145.2,220.4 L145.9,220.4 L146.6,220.4 L147.3,220.4 L148.0,220.4 L148.7,220.4 L149.4,220.4 L150.0,220.4 L150.7,220.4 L151.4,220.3 L152.1,220.3 L152.8,220.3 L153.5,220.3 L154.1,220.3 L154.8,220.3 L155.5,220.3 L156.2,220.3 L156.9,220.3 L157.6,220.2 L158.3,220.2 L158.9,220.2 L159.6,220.2 L160.3,220.2 L161.0,220.2 L161.7,220.2 L162.4,220.2 L163.1,220.2 L163.7,220.2 L164.4,220.2 L165.1,220.1 L165.8,220.1 L166.5,220.1 L167.2,220.1 L167.8,220.1 L168.5,220.1 L169.2,220.1 L169.9,220.1 L170.6,220.1 L171.3,220.1 L172.0,220.1 L172.6,220.1 L173.3,220.1 L174.0,220.1 L174.7,220.1 L175.4,220.1 L176.1,220.0 L176.8,220.0 L177.4,220.0 L178.1,220.0 L178.8,220.0 L179.5,220.0 L180.2,220.0 L180.9,220.0 L181.5,220.0 L182.2,220.0 L182.9,220.0 L183.6,220.0 L184.3,220.0 L185.0,220.0 L185.7,220.0 L186.3,220.0 L187.0,220.0 L187.7,220.0 L188.4,219.9 L189.1,219.9 L189.8,219.9 L190.5,219.9 L191.1,219.9 L191.8,219.9 L192.5,219.9 L193.2,219.9 L193.9,219.9 L194.6,219.9 L195.2,219.9 L195.9,219.9 L196.6,219.9 L197.3,219.9 L198.0,219.9 L198.7,219.9 L199.4,219.9 L200.0,219.9 L200.7,219.9 L201.4,219.9 L202.1,219.8 L202.8,219.8 L203.5,219.8 L204.2,219.8 L204.8,219.8 L205.5,219.8 L206.2,219.8 L206.9,219.8 L207.6,219.8 L208.3,219.8 L208.9,219.8 L209.6,219.8 L210.3,219.8 L211.0,219.8" fill="none" stroke="#aaa2dc" stroke-width="1.6" stroke-linejoin="round" />
<path d="M46.6,278.0 L47.3,276.3 L48.0,274.6 L48.7,273.3 L49.3,272.1 L50.0,270.9 L50.7,269.8 L51.4,268.8 L52.1,267.8 L52.8,266.9 L53.5,266.0 L54.1,265.1 L54.8,264.2 L55.5,263.4 L56.2,262.5 L56.9,261.7 L57.6,260.8 L58.2,259.9 L58.9,259.0 L59.6,258.1 L60.3,257.2 L61.0,256.2 L61.7,255.3 L62.4,254.3 L63.0,253.4 L63.7,252.4 L64.4,251.4 L65.1,250.5 L65.8,249.5 L66.5,248.6 L67.2,247.7 L67.8,246.7 L68.5,245.8 L69.2,244.9 L69.9,244.0 L70.6,243.0 L71.3,242.1 L71.9,241.3 L72.6,240.4 L73.3,239.5 L74.0,238.6 L74.7,237.8 L75.4,236.9 L76.1,236.1 L76.7,235.2 L77.4,234.4 L78.1,233.5 L78.8,232.7 L79.5,231.9 L80.2,231.1 L80.8,230.3 L81.5,229.6 L82.2,228.8 L82.9,228.1 L83.6,227.4 L84.3,226.6 L85.0,225.9 L85.6,225.3 L86.3,224.7 L87.0,224.1 L87.7,223.6 L88.4,223.1 L89.1,222.7 L89.8,222.3 L90.4,222.0 L91.1,221.8 L91.8,221.6 L92.5,221.5 L93.2,221.3 L93.9,221.2 L94.6,221.1 L95.2,221.1 L95.9,221.0 L96.6,221.0 L97.3,220.9 L98.0,220.9 L98.7,220.8 L99.3,220.8 L100.0,220.7 L100.7,220.7 L101.4,220.7 L102.1,220.6 L102.8,220.6 L103.5,220.6 L104.1,220.6 L104.8,220.6 L105.5,220.6 L106.2,220.6 L106.9,220.6 L107.6,220.6 L108.2,220.6 L108.9,220.6 L109.6,220.6 L110.3,220.6 L111.0,220.6 L111.7,220.6 L112.4,220.6 L113.0,220.6 L113.7,220.6 L114.4,220.6 L115.1,220.6 L115.8,220.6 L116.5,220.6 L117.2,220.6 L117.8,220.6 L118.5,220.6 L119.2,220.6 L119.9,220.6 L120.6,220.6 L121.3,220.6 L122.0,220.6 L122.6,220.6 L123.3,220.6 L124.0,220.6 L124.7,220.6 L125.4,220.6 L126.1,220.6 L126.7,220.6 L127.4,220.6 L128.1,220.6 L128.8,220.6 L129.5,220.6 L130.2,220.5 L130.9,220.5 L131.5,220.5 L132.2,220.5 L132.9,220.5 L133.6,220.5 L134.3,220.5 L135.0,220.5 L135.7,220.5 L136.3,220.5 L137.0,220.5 L137.7,220.5 L138.4,220.4 L139.1,220.4 L139.8,220.4 L140.4,220.4 L141.1,220.4 L141.8,220.4 L142.5,220.4 L143.2,220.4 L143.9,220.4 L144.6,220.3 L145.2,220.3 L145.9,220.3 L146.6,220.3 L147.3,220.3 L148.0,220.3 L148.7,220.3 L149.4,220.3 L150.0,220.3 L150.7,220.2 L151.4,220.2 L152.1,220.2 L152.8,220.2 L153.5,220.2 L154.1,220.2 L154.8,220.2 L155.5,220.2 L156.2,220.1 L156.9,220.1 L157.6,220.1 L158.3,220.1 L158.9,220.1 L159.6,220.1 L160.3,220.1 L161.0,220.1 L161.7,220.1 L162.4,220.1 L163.1,220.1 L163.7,220.0 L164.4,220.0 L165.1,220.0 L165.8,220.0 L166.5,220.0 L167.2,220.0 L167.8,220.0 L168.5,220.0 L169.2,220.0 L169.9,220.0 L170.6,220.0 L171.3,220.0 L172.0,220.0 L172.6,220.0 L173.3,220.0 L174.0,219.9 L174.7,219.9 L175.4,219.9 L176.1,219.9 L176.8,219.9 L177.4,219.9 L178.1,219.9 L178.8,219.9 L179.5,219.9 L180.2,219.9 L180.9,219.9 L181.5,219.9 L182.2,219.9 L182.9,219.9 L183.6,219.9 L184.3,219.9 L185.0,219.9 L185.7,219.9 L186.3,219.8 L187.0,219.8 L187.7,219.8 L188.4,219.8 L189.1,219.8 L189.8,219.8 L190.5,219.8 L191.1,219.8 L191.8,219.8 L192.5,219.8 L193.2,219.8 L193.9,219.8 L194.6,219.8 L195.2,219.8 L195.9,219.8 L196.6,219.8 L197.3,219.8 L198.0,219.8 L198.7,219.8 L199.4,219.8 L200.0,219.7 L200.7,219.7 L201.4,219.7 L202.1,219.7 L202.8,219.7 L203.5,219.7 L204.2,219.7 L204.8,219.7 L205.5,219.7 L206.2,219.7 L206.9,219.7 L207.6,219.7 L208.3,219.7 L208.9,219.7 L209.6,219.7 L210.3,219.7 L211.0,219.7" fill="none" stroke="#d2cdee" stroke-width="1.2" stroke-linejoin="round" stroke-dasharray="3,2.5"/>
<path d="M46.6,276.5 L47.3,274.8 L48.0,273.1 L48.7,271.8 L49.3,270.5 L50.0,269.4 L50.7,268.3 L51.4,267.3 L52.1,266.3 L52.8,265.4 L53.5,264.4 L54.1,263.6 L54.8,262.7 L55.5,261.8 L56.2,261.0 L56.9,260.1 L57.6,259.3 L58.2,258.4 L58.9,257.5 L59.6,256.6 L60.3,255.6 L61.0,254.7 L61.7,253.7 L62.4,252.8 L63.0,251.8 L63.7,250.9 L64.4,249.9 L65.1,249.0 L65.8,248.0 L66.5,247.1 L67.2,246.1 L67.8,245.2 L68.5,244.3 L69.2,243.3 L69.9,242.4 L70.6,241.5 L71.3,240.6 L71.9,239.7 L72.6,238.9 L73.3,238.0 L74.0,237.1 L74.7,236.2 L75.4,235.4 L76.1,234.5 L76.7,233.7 L77.4,232.8 L78.1,232.0 L78.8,231.2 L79.5,230.4 L80.2,229.6 L80.8,228.8 L81.5,228.0 L82.2,227.3 L82.9,226.6 L83.6,225.8 L84.3,225.1 L85.0,224.4 L85.6,223.8 L86.3,223.1 L87.0,222.6 L87.7,222.1 L88.4,221.6 L89.1,221.1 L89.8,220.8 L90.4,220.5 L91.1,220.3 L91.8,220.1 L92.5,220.0 L93.2,219.8 L93.9,219.7 L94.6,219.6 L95.2,219.5 L95.9,219.5 L96.6,219.4 L97.3,219.4 L98.0,219.3 L98.7,219.3 L99.3,219.3 L100.0,219.2 L100.7,219.2 L101.4,219.1 L102.1,219.1 L102.8,219.1 L103.5,219.1 L104.1,219.1 L104.8,219.1 L105.5,219.1 L106.2,219.1 L106.9,219.1 L107.6,219.1 L108.2,219.1 L108.9,219.1 L109.6,219.1 L110.3,219.1 L111.0,219.1 L111.7,219.1 L112.4,219.1 L113.0,219.1 L113.7,219.1 L114.4,219.1 L115.1,219.1 L115.8,219.1 L116.5,219.1 L117.2,219.1 L117.8,219.1 L118.5,219.1 L119.2,219.1 L119.9,219.1 L120.6,219.1 L121.3,219.1 L122.0,219.1 L122.6,219.1 L123.3,219.1 L124.0,219.1 L124.7,219.1 L125.4,219.1 L126.1,219.1 L126.7,219.1 L127.4,219.0 L128.1,219.0 L128.8,219.0 L129.5,219.0 L130.2,219.0 L130.9,219.0 L131.5,219.0 L132.2,219.0 L132.9,219.0 L133.6,219.0 L134.3,219.0 L135.0,219.0 L135.7,219.0 L136.3,218.9 L137.0,218.9 L137.7,218.9 L138.4,218.9 L139.1,218.9 L139.8,218.9 L140.4,218.9 L141.1,218.9 L141.8,218.9 L142.5,218.9 L143.2,218.8 L143.9,218.8 L144.6,218.8 L145.2,218.8 L145.9,218.8 L146.6,218.8 L147.3,218.8 L148.0,218.8 L148.7,218.7 L149.4,218.7 L150.0,218.7 L150.7,218.7 L151.4,218.7 L152.1,218.7 L152.8,218.7 L153.5,218.7 L154.1,218.7 L154.8,218.6 L155.5,218.6 L156.2,218.6 L156.9,218.6 L157.6,218.6 L158.3,218.6 L158.9,218.6 L159.6,218.6 L160.3,218.6 L161.0,218.6 L161.7,218.5 L162.4,218.5 L163.1,218.5 L163.7,218.5 L164.4,218.5 L165.1,218.5 L165.8,218.5 L166.5,218.5 L167.2,218.5 L167.8,218.5 L168.5,218.5 L169.2,218.5 L169.9,218.5 L170.6,218.5 L171.3,218.4 L172.0,218.4 L172.6,218.4 L173.3,218.4 L174.0,218.4 L174.7,218.4 L175.4,218.4 L176.1,218.4 L176.8,218.4 L177.4,218.4 L178.1,218.4 L178.8,218.4 L179.5,218.4 L180.2,218.4 L180.9,218.4 L181.5,218.4 L182.2,218.4 L182.9,218.4 L183.6,218.3 L184.3,218.3 L185.0,218.3 L185.7,218.3 L186.3,218.3 L187.0,218.3 L187.7,218.3 L188.4,218.3 L189.1,218.3 L189.8,218.3 L190.5,218.3 L191.1,218.3 L191.8,218.3 L192.5,218.3 L193.2,218.3 L193.9,218.3 L194.6,218.3 L195.2,218.3 L195.9,218.3 L196.6,218.2 L197.3,218.2 L198.0,218.2 L198.7,218.2 L199.4,218.2 L200.0,218.2 L200.7,218.2 L201.4,218.2 L202.1,218.2 L202.8,218.2 L203.5,218.2 L204.2,218.2 L204.8,218.2 L205.5,218.2 L206.2,218.2 L206.9,218.2 L207.6,218.2 L208.3,218.2 L208.9,218.2 L209.6,218.2 L210.3,218.1 L211.0,218.1" fill="none" stroke="#6f62c2" stroke-width="1.3" stroke-linejoin="round" />
<text x="53.9" y="183.2" font-size="9" text-anchor="start" fill="#000" >MOI</text>
<text x="52.9" y="193" font-size="8.7" text-anchor="start" fill="#000" >Empty vector</text>
<text x="53.9" y="204.7" font-size="8.7" text-anchor="start" fill="#000" >CMoRE</text>
<text x="123.80000000000001" y="168.5" font-size="9" text-anchor="start" fill="#000" >Phage T2</text>
<text x="113.6" y="183.2" font-size="9" text-anchor="start" fill="#000" >0</text>
<text x="123.5" y="183.2" font-size="9" text-anchor="start" fill="#000" >0.02</text>
<text x="147.6" y="183.2" font-size="9" text-anchor="start" fill="#000" >2</text>
<line x1="109.5" y1="190.3" x2="119.9" y2="190.3" stroke="#d6d6d6" stroke-width="1.2" stroke-dasharray="4,2"/>
<line x1="124.4" y1="190.3" x2="137.8" y2="190.3" stroke="#c4c4c4" stroke-width="1.2" />
<line x1="142.8" y1="190.3" x2="156.3" y2="190.3" stroke="#000" stroke-width="1.3" />
<line x1="109.5" y1="202.5" x2="119.9" y2="202.5" stroke="#9d94d6" stroke-width="1.2" stroke-dasharray="4,2"/>
<line x1="124.4" y1="202.5" x2="137.8" y2="202.5" stroke="#a69edb" stroke-width="1.2" />
<line x1="142.8" y1="202.5" x2="156.3" y2="202.5" stroke="#5f52b8" stroke-width="1.3" />
<line x1="279.1" y1="186.7" x2="279.1" y2="305.0" stroke="#000" stroke-width="1.2" />
<line x1="278.5" y1="304.4" x2="444.1" y2="304.4" stroke="#000" stroke-width="1.2" />
<line x1="276.6" y1="304.40" x2="279.1" y2="304.40" stroke="#000" stroke-width="1.1" />
<text x="274.5" y="307.10" font-size="9.3" text-anchor="end" fill="#000" >0.0</text>
<line x1="276.6" y1="280.96" x2="279.1" y2="280.96" stroke="#000" stroke-width="1.1" />
<text x="274.5" y="283.66" font-size="9.3" text-anchor="end" fill="#000" >0.2</text>
<line x1="276.6" y1="257.52" x2="279.1" y2="257.52" stroke="#000" stroke-width="1.1" />
<text x="274.5" y="260.22" font-size="9.3" text-anchor="end" fill="#000" >0.4</text>
<line x1="276.6" y1="234.08" x2="279.1" y2="234.08" stroke="#000" stroke-width="1.1" />
<text x="274.5" y="236.78" font-size="9.3" text-anchor="end" fill="#000" >0.6</text>
<line x1="276.6" y1="210.64" x2="279.1" y2="210.64" stroke="#000" stroke-width="1.1" />
<text x="274.5" y="213.34" font-size="9.3" text-anchor="end" fill="#000" >0.8</text>
<line x1="276.6" y1="187.20" x2="279.1" y2="187.20" stroke="#000" stroke-width="1.1" />
<text x="274.5" y="189.90" font-size="9.3" text-anchor="end" fill="#000" >1.0</text>
<line x1="279.10" y1="304.4" x2="279.10" y2="306.9" stroke="#000" stroke-width="1.1" />
<text x="280.60" y="318.8" font-size="9.2" text-anchor="middle" fill="#000" >0</text>
<line x1="299.65" y1="304.4" x2="299.65" y2="306.9" stroke="#000" stroke-width="1.1" />
<text x="301.15" y="318.8" font-size="9.2" text-anchor="middle" fill="#000" >60</text>
<line x1="320.20" y1="304.4" x2="320.20" y2="306.9" stroke="#000" stroke-width="1.1" />
<text x="321.70" y="318.8" font-size="9.2" text-anchor="middle" fill="#000" >120</text>
<line x1="340.75" y1="304.4" x2="340.75" y2="306.9" stroke="#000" stroke-width="1.1" />
<text x="342.25" y="318.8" font-size="9.2" text-anchor="middle" fill="#000" >180</text>
<line x1="361.30" y1="304.4" x2="361.30" y2="306.9" stroke="#000" stroke-width="1.1" />
<text x="362.80" y="318.8" font-size="9.2" text-anchor="middle" fill="#000" >240</text>
<line x1="381.85" y1="304.4" x2="381.85" y2="306.9" stroke="#000" stroke-width="1.1" />
<text x="383.35" y="318.8" font-size="9.2" text-anchor="middle" fill="#000" >300</text>
<line x1="402.40" y1="304.4" x2="402.40" y2="306.9" stroke="#000" stroke-width="1.1" />
<text x="403.90" y="318.8" font-size="9.2" text-anchor="middle" fill="#000" >360</text>
<line x1="422.95" y1="304.4" x2="422.95" y2="306.9" stroke="#000" stroke-width="1.1" />
<text x="424.45" y="318.8" font-size="9.2" text-anchor="middle" fill="#000" >420</text>
<line x1="443.50" y1="304.4" x2="443.50" y2="306.9" stroke="#000" stroke-width="1.1" />
<text x="445.00" y="318.8" font-size="9.2" text-anchor="middle" fill="#000" >480</text>
<text x="367.10" y="333" font-size="8.9" text-anchor="middle" fill="#000" >Time (min)</text>
<text transform="translate(253.50000000000003,255.3) rotate(-90)" font-size="10.6">OD<tspan font-size="5.2" dy="1.8">600</tspan></text>
<path d="M279.1,281.0 L279.8,280.4 L280.5,279.8 L281.2,279.2 L281.8,278.6 L282.5,278.0 L283.2,277.4 L283.9,276.8 L284.6,276.2 L285.3,275.6 L286.0,275.0 L286.6,274.4 L287.3,273.8 L288.0,273.2 L288.7,272.7 L289.4,272.1 L290.1,271.5 L290.7,270.9 L291.4,270.3 L292.1,269.7 L292.8,269.1 L293.5,268.6 L294.2,268.0 L294.9,267.4 L295.5,266.8 L296.2,266.3 L296.9,265.7 L297.6,265.2 L298.3,264.7 L299.0,264.2 L299.7,263.6 L300.3,263.1 L301.0,262.6 L301.7,262.1 L302.4,261.5 L303.1,260.9 L303.8,260.2 L304.4,259.4 L305.1,258.6 L305.8,257.7 L306.5,256.8 L307.2,255.9 L307.9,255.1 L308.6,254.2 L309.2,253.5 L309.9,252.8 L310.6,252.2 L311.3,251.7 L312.0,251.2 L312.7,250.7 L313.4,250.3 L314.0,249.9 L314.7,249.5 L315.4,249.2 L316.1,248.8 L316.8,248.5 L317.5,248.2 L318.1,247.9 L318.8,247.6 L319.5,247.3 L320.2,247.0 L320.9,246.7 L321.6,246.4 L322.3,246.2 L322.9,245.9 L323.6,245.7 L324.3,245.4 L325.0,245.2 L325.7,244.9 L326.4,244.7 L327.1,244.5 L327.7,244.3 L328.4,244.0 L329.1,243.8 L329.8,243.6 L330.5,243.4 L331.2,243.2 L331.8,243.1 L332.5,242.9 L333.2,242.7 L333.9,242.5 L334.6,242.4 L335.3,242.2 L336.0,242.0 L336.6,241.9 L337.3,241.7 L338.0,241.6 L338.7,241.4 L339.4,241.3 L340.1,241.2 L340.8,241.0 L341.4,240.9 L342.1,240.8 L342.8,240.6 L343.5,240.5 L344.2,240.4 L344.9,240.3 L345.5,240.2 L346.2,240.1 L346.9,240.0 L347.6,239.9 L348.3,239.9 L349.0,239.8 L349.7,239.7 L350.3,239.7 L351.0,239.6 L351.7,239.6 L352.4,239.5 L353.1,239.5 L353.8,239.5 L354.5,239.4 L355.1,239.4 L355.8,239.3 L356.5,239.3 L357.2,239.2 L357.9,239.2 L358.6,239.1 L359.2,239.1 L359.9,239.0 L360.6,238.9 L361.3,238.8 L362.0,238.8 L362.7,238.7 L363.4,238.6 L364.0,238.5 L364.7,238.4 L365.4,238.2 L366.1,238.1 L366.8,238.0 L367.5,237.9 L368.2,237.8 L368.8,237.7 L369.5,237.6 L370.2,237.6 L370.9,237.5 L371.6,237.4 L372.3,237.3 L372.9,237.2 L373.6,237.1 L374.3,237.0 L375.0,236.9 L375.7,236.8 L376.4,236.7 L377.1,236.6 L377.7,236.5 L378.4,236.4 L379.1,236.3 L379.8,236.2 L380.5,236.1 L381.2,236.0 L381.9,235.9 L382.5,235.8 L383.2,235.8 L383.9,235.7 L384.6,235.6 L385.3,235.5 L386.0,235.5 L386.6,235.4 L387.3,235.3 L388.0,235.3 L388.7,235.2 L389.4,235.2 L390.1,235.1 L390.8,235.1 L391.4,235.1 L392.1,235.0 L392.8,235.0 L393.5,235.0 L394.2,235.0 L394.9,235.0 L395.6,235.0 L396.2,235.1 L396.9,235.1 L397.6,235.1 L398.3,235.2 L399.0,235.2 L399.7,235.3 L400.3,235.3 L401.0,235.4 L401.7,235.5 L402.4,235.5 L403.1,235.6 L403.8,235.7 L404.5,235.8 L405.1,235.9 L405.8,236.0 L406.5,236.1 L407.2,236.2 L407.9,236.4 L408.6,236.6 L409.2,236.9 L409.9,237.2 L410.6,237.5 L411.3,237.9 L412.0,238.3 L412.7,238.7 L413.4,239.2 L414.0,239.7 L414.7,240.2 L415.4,241.1 L416.1,242.1 L416.8,243.4 L417.5,244.7 L418.2,246.2 L418.8,247.8 L419.5,249.3 L420.2,251.0 L420.9,253.0 L421.6,255.2 L422.3,257.4 L423.0,259.5 L423.6,261.4 L424.3,263.0 L425.0,264.4 L425.7,265.6 L426.4,266.8 L427.1,267.9 L427.7,268.9 L428.4,269.7 L429.1,270.4 L429.8,271.0 L430.5,271.5 L431.2,272.0 L431.9,272.4 L432.5,272.8 L433.2,273.1 L433.9,273.5 L434.6,273.8 L435.3,274.2 L436.0,274.5 L436.7,274.9 L437.3,275.2 L438.0,275.5 L438.7,275.8 L439.4,276.1 L440.1,276.4 L440.8,276.7 L441.4,277.0 L442.1,277.3 L442.8,277.6 L443.5,277.9" fill="none" stroke="#c6c6c6" stroke-width="2.1" stroke-linejoin="round" />
<path d="M279.1,281.0 L279.8,280.3 L280.5,279.7 L281.2,279.0 L281.8,278.4 L282.5,277.9 L283.2,277.5 L283.9,277.1 L284.6,276.7 L285.3,276.3 L286.0,276.0 L286.6,275.7 L287.3,275.3 L288.0,275.0 L288.7,274.7 L289.4,274.4 L290.1,274.1 L290.7,273.8 L291.4,273.5 L292.1,273.2 L292.8,273.0 L293.5,272.7 L294.2,272.4 L294.9,272.2 L295.5,271.9 L296.2,271.6 L296.9,271.4 L297.6,271.1 L298.3,270.9 L299.0,270.6 L299.7,270.3 L300.3,270.0 L301.0,269.7 L301.7,269.4 L302.4,269.1 L303.1,268.8 L303.8,268.5 L304.4,268.1 L305.1,267.7 L305.8,267.3 L306.5,266.9 L307.2,266.5 L307.9,266.0 L308.6,265.6 L309.2,265.2 L309.9,264.8 L310.6,264.4 L311.3,264.0 L312.0,263.6 L312.7,263.2 L313.4,262.8 L314.0,262.4 L314.7,261.9 L315.4,261.5 L316.1,261.1 L316.8,260.7 L317.5,260.3 L318.1,259.9 L318.8,259.5 L319.5,259.2 L320.2,258.8 L320.9,258.5 L321.6,258.1 L322.3,257.8 L322.9,257.5 L323.6,257.2 L324.3,256.9 L325.0,256.7 L325.7,256.4 L326.4,256.1 L327.1,255.9 L327.7,255.6 L328.4,255.4 L329.1,255.1 L329.8,254.9 L330.5,254.7 L331.2,254.5 L331.8,254.3 L332.5,254.1 L333.2,253.9 L333.9,253.7 L334.6,253.5 L335.3,253.3 L336.0,253.2 L336.6,253.0 L337.3,252.9 L338.0,252.7 L338.7,252.6 L339.4,252.4 L340.1,252.3 L340.8,252.2 L341.4,252.0 L342.1,251.9 L342.8,251.8 L343.5,251.7 L344.2,251.6 L344.9,251.5 L345.5,251.4 L346.2,251.3 L346.9,251.2 L347.6,251.1 L348.3,251.0 L349.0,250.9 L349.7,250.8 L350.3,250.7 L351.0,250.7 L351.7,250.6 L352.4,250.5 L353.1,250.4 L353.8,250.4 L354.5,250.3 L355.1,250.2 L355.8,250.2 L356.5,250.1 L357.2,250.0 L357.9,250.0 L358.6,249.9 L359.2,249.8 L359.9,249.8 L360.6,249.7 L361.3,249.7 L362.0,249.6 L362.7,249.5 L363.4,249.4 L364.0,249.4 L364.7,249.3 L365.4,249.2 L366.1,249.2 L366.8,249.1 L367.5,249.1 L368.2,249.1 L368.8,249.1 L369.5,249.1 L370.2,249.1 L370.9,249.1 L371.6,249.1 L372.3,249.1 L372.9,249.2 L373.6,249.2 L374.3,249.2 L375.0,249.2 L375.7,249.3 L376.4,249.3 L377.1,249.3 L377.7,249.4 L378.4,249.4 L379.1,249.5 L379.8,249.5 L380.5,249.5 L381.2,249.6 L381.9,249.7 L382.5,249.7 L383.2,249.8 L383.9,249.9 L384.6,250.0 L385.3,250.2 L386.0,250.3 L386.6,250.5 L387.3,250.6 L388.0,250.8 L388.7,251.0 L389.4,251.3 L390.1,251.6 L390.8,252.1 L391.4,252.6 L392.1,253.2 L392.8,253.9 L393.5,254.6 L394.2,255.3 L394.9,256.1 L395.6,257.0 L396.2,258.1 L396.9,259.4 L397.6,260.8 L398.3,262.2 L399.0,263.7 L399.7,265.2 L400.3,266.7 L401.0,268.2 L401.7,269.9 L402.4,271.6 L403.1,273.3 L403.8,274.8 L404.5,276.2 L405.1,277.2 L405.8,278.1 L406.5,279.0 L407.2,279.9 L407.9,280.6 L408.6,281.3 L409.2,282.0 L409.9,282.5 L410.6,283.0 L411.3,283.4 L412.0,283.8 L412.7,284.1 L413.4,284.5 L414.0,284.8 L414.7,285.0 L415.4,285.3 L416.1,285.5 L416.8,285.8 L417.5,285.9 L418.2,286.1 L418.8,286.2 L419.5,286.3 L420.2,286.4 L420.9,286.5 L421.6,286.5 L422.3,286.6 L423.0,286.7 L423.6,286.7 L424.3,286.8 L425.0,286.8 L425.7,286.9 L426.4,286.9 L427.1,287.0 L427.7,287.0 L428.4,287.1 L429.1,287.1 L429.8,287.1 L430.5,287.2 L431.2,287.2 L431.9,287.2 L432.5,287.3 L433.2,287.3 L433.9,287.3 L434.6,287.3 L435.3,287.4 L436.0,287.4 L436.7,287.4 L437.3,287.5 L438.0,287.5 L438.7,287.5 L439.4,287.5 L440.1,287.6 L440.8,287.6 L441.4,287.6 L442.1,287.7 L442.8,287.7 L443.5,287.8" fill="none" stroke="#000" stroke-width="1.1" stroke-linejoin="round" />
<path d="M279.1,281.0 L279.8,280.3 L280.5,279.7 L281.2,279.0 L281.8,278.4 L282.5,277.9 L283.2,277.5 L283.9,277.1 L284.6,276.7 L285.3,276.3 L286.0,276.0 L286.6,275.7 L287.3,275.3 L288.0,275.0 L288.7,274.7 L289.4,274.4 L290.1,274.1 L290.7,273.8 L291.4,273.5 L292.1,273.2 L292.8,273.0 L293.5,272.7 L294.2,272.4 L294.9,272.2 L295.5,271.9 L296.2,271.6 L296.9,271.4 L297.6,271.1 L298.3,270.9 L299.0,270.6 L299.7,270.3 L300.3,270.0 L301.0,269.7 L301.7,269.4 L302.4,269.1 L303.1,268.8 L303.8,268.5 L304.4,268.1 L305.1,267.7 L305.8,267.3 L306.5,266.9 L307.2,266.5 L307.9,266.0 L308.6,265.6 L309.2,265.2 L309.9,264.8 L310.6,264.4 L311.3,264.0 L312.0,263.6 L312.7,263.2 L313.4,262.8 L314.0,262.4 L314.7,261.9 L315.4,261.5 L316.1,261.1 L316.8,260.7 L317.5,260.3 L318.1,259.9 L318.8,259.5 L319.5,259.2 L320.2,258.8 L320.9,258.5 L321.6,258.1 L322.3,257.8 L322.9,257.5 L323.6,257.2 L324.3,256.9 L325.0,256.7 L325.7,256.4 L326.4,256.1 L327.1,255.9 L327.7,255.6 L328.4,255.4 L329.1,255.1 L329.8,254.9 L330.5,254.7 L331.2,254.5 L331.8,254.3 L332.5,254.1 L333.2,253.9 L333.9,253.7 L334.6,253.5 L335.3,253.3 L336.0,253.2 L336.6,253.0 L337.3,252.9 L338.0,252.7 L338.7,252.6 L339.4,252.4 L340.1,252.3 L340.8,252.2 L341.4,252.0 L342.1,251.9 L342.8,251.8 L343.5,251.7 L344.2,251.6 L344.9,251.5 L345.5,251.4 L346.2,251.3 L346.9,251.2 L347.6,251.1 L348.3,251.0 L349.0,250.9 L349.7,250.8 L350.3,250.7 L351.0,250.7 L351.7,250.6 L352.4,250.5 L353.1,250.4 L353.8,250.4 L354.5,250.3 L355.1,250.2 L355.8,250.2 L356.5,250.1 L357.2,250.0 L357.9,250.0 L358.6,249.9 L359.2,249.8 L359.9,249.8 L360.6,249.7 L361.3,249.7 L362.0,249.6 L362.7,249.5 L363.4,249.5 L364.0,249.4 L364.7,249.3 L365.4,249.3 L366.1,249.2 L366.8,249.2 L367.5,249.1 L368.2,249.1 L368.8,249.1 L369.5,249.1 L370.2,249.1 L370.9,249.1 L371.6,249.1 L372.3,249.1 L372.9,249.1 L373.6,249.1 L374.3,249.2 L375.0,249.2 L375.7,249.2 L376.4,249.3 L377.1,249.3 L377.7,249.3 L378.4,249.4 L379.1,249.4 L379.8,249.4 L380.5,249.5 L381.2,249.5 L381.9,249.6 L382.5,249.6 L383.2,249.7 L383.9,249.8 L384.6,249.9 L385.3,250.0 L386.0,250.1 L386.6,250.3 L387.3,250.4 L388.0,250.6 L388.7,250.8 L389.4,251.0 L390.1,251.2 L390.8,251.5 L391.4,251.9 L392.1,252.4 L392.8,253.0 L393.5,253.7 L394.2,254.4 L394.9,255.1 L395.6,255.9 L396.2,256.8 L396.9,257.8 L397.6,259.1 L398.3,260.4 L399.0,261.9 L399.7,263.4 L400.3,264.9 L401.0,266.3 L401.7,267.8 L402.4,269.5 L403.1,271.2 L403.8,272.9 L404.5,274.5 L405.1,275.8 L405.8,277.0 L406.5,277.9 L407.2,278.8 L407.9,279.7 L408.6,280.4 L409.2,281.2 L409.9,281.8 L410.6,282.4 L411.3,282.9 L412.0,283.3 L412.7,283.7 L413.4,284.1 L414.0,284.4 L414.7,284.7 L415.4,285.0 L416.1,285.2 L416.8,285.5 L417.5,285.7 L418.2,285.9 L418.8,286.1 L419.5,286.2 L420.2,286.3 L420.9,286.4 L421.6,286.5 L422.3,286.5 L423.0,286.6 L423.6,286.7 L424.3,286.7 L425.0,286.8 L425.7,286.8 L426.4,286.9 L427.1,286.9 L427.7,287.0 L428.4,287.0 L429.1,287.1 L429.8,287.1 L430.5,287.1 L431.2,287.2 L431.9,287.2 L432.5,287.2 L433.2,287.3 L433.9,287.3 L434.6,287.3 L435.3,287.4 L436.0,287.4 L436.7,287.4 L437.3,287.4 L438.0,287.5 L438.7,287.5 L439.4,287.5 L440.1,287.6 L440.8,287.6 L441.4,287.6 L442.1,287.7 L442.8,287.7 L443.5,287.8" fill="none" stroke="#000" stroke-width="1.1" stroke-linejoin="round" />
<path d="M279.1,281.0 L279.8,280.3 L280.5,279.7 L281.2,279.0 L281.8,278.4 L282.5,277.9 L283.2,277.5 L283.9,277.1 L284.6,276.7 L285.3,276.3 L286.0,276.0 L286.6,275.7 L287.3,275.3 L288.0,275.0 L288.7,274.7 L289.4,274.4 L290.1,274.1 L290.7,273.8 L291.4,273.5 L292.1,273.2 L292.8,273.0 L293.5,272.7 L294.2,272.4 L294.9,272.2 L295.5,271.9 L296.2,271.6 L296.9,271.4 L297.6,271.1 L298.3,270.9 L299.0,270.6 L299.7,270.3 L300.3,270.0 L301.0,269.7 L301.7,269.4 L302.4,269.1 L303.1,268.8 L303.8,268.5 L304.4,268.1 L305.1,267.7 L305.8,267.3 L306.5,266.9 L307.2,266.5 L307.9,266.0 L308.6,265.6 L309.2,265.2 L309.9,264.8 L310.6,264.4 L311.3,264.0 L312.0,263.6 L312.7,263.2 L313.4,262.8 L314.0,262.4 L314.7,261.9 L315.4,261.5 L316.1,261.1 L316.8,260.7 L317.5,260.3 L318.1,259.9 L318.8,259.5 L319.5,259.2 L320.2,258.8 L320.9,258.5 L321.6,258.1 L322.3,257.8 L322.9,257.5 L323.6,257.2 L324.3,256.9 L325.0,256.7 L325.7,256.4 L326.4,256.1 L327.1,255.9 L327.7,255.6 L328.4,255.4 L329.1,255.1 L329.8,254.9 L330.5,254.7 L331.2,254.5 L331.8,254.3 L332.5,254.1 L333.2,253.9 L333.9,253.7 L334.6,253.5 L335.3,253.3 L336.0,253.2 L336.6,253.0 L337.3,252.9 L338.0,252.7 L338.7,252.6 L339.4,252.4 L340.1,252.3 L340.8,252.2 L341.4,252.0 L342.1,251.9 L342.8,251.8 L343.5,251.7 L344.2,251.6 L344.9,251.5 L345.5,251.4 L346.2,251.3 L346.9,251.2 L347.6,251.1 L348.3,251.0 L349.0,250.9 L349.7,250.8 L350.3,250.7 L351.0,250.6 L351.7,250.6 L352.4,250.5 L353.1,250.4 L353.8,250.3 L354.5,250.3 L355.1,250.2 L355.8,250.1 L356.5,250.1 L357.2,250.0 L357.9,250.0 L358.6,249.9 L359.2,249.8 L359.9,249.8 L360.6,249.7 L361.3,249.7 L362.0,249.6 L362.7,249.5 L363.4,249.5 L364.0,249.4 L364.7,249.4 L365.4,249.3 L366.1,249.3 L366.8,249.2 L367.5,249.2 L368.2,249.1 L368.8,249.1 L369.5,249.1 L370.2,249.1 L370.9,249.1 L371.6,249.1 L372.3,249.1 L372.9,249.1 L373.6,249.1 L374.3,249.1 L375.0,249.2 L375.7,249.2 L376.4,249.2 L377.1,249.2 L377.7,249.3 L378.4,249.3 L379.1,249.3 L379.8,249.4 L380.5,249.4 L381.2,249.5 L381.9,249.5 L382.5,249.6 L383.2,249.6 L383.9,249.7 L384.6,249.8 L385.3,249.9 L386.0,250.0 L386.6,250.1 L387.3,250.2 L388.0,250.4 L388.7,250.5 L389.4,250.7 L390.1,250.9 L390.8,251.1 L391.4,251.4 L392.1,251.8 L392.8,252.3 L393.5,252.9 L394.2,253.5 L394.9,254.2 L395.6,255.0 L396.2,255.7 L396.9,256.6 L397.6,257.6 L398.3,258.7 L399.0,260.1 L399.7,261.5 L400.3,263.0 L401.0,264.5 L401.7,266.0 L402.4,267.4 L403.1,269.1 L403.8,270.8 L404.5,272.5 L405.1,274.1 L405.8,275.5 L406.5,276.7 L407.2,277.7 L407.9,278.6 L408.6,279.5 L409.2,280.2 L409.9,281.0 L410.6,281.7 L411.3,282.3 L412.0,282.8 L412.7,283.2 L413.4,283.6 L414.0,284.0 L414.7,284.3 L415.4,284.6 L416.1,284.9 L416.8,285.2 L417.5,285.4 L418.2,285.6 L418.8,285.8 L419.5,286.0 L420.2,286.2 L420.9,286.3 L421.6,286.4 L422.3,286.5 L423.0,286.5 L423.6,286.6 L424.3,286.7 L425.0,286.7 L425.7,286.8 L426.4,286.8 L427.1,286.9 L427.7,286.9 L428.4,287.0 L429.1,287.0 L429.8,287.1 L430.5,287.1 L431.2,287.1 L431.9,287.2 L432.5,287.2 L433.2,287.2 L433.9,287.3 L434.6,287.3 L435.3,287.3 L436.0,287.4 L436.7,287.4 L437.3,287.4 L438.0,287.5 L438.7,287.5 L439.4,287.5 L440.1,287.6 L440.8,287.6 L441.4,287.6 L442.1,287.7 L442.8,287.7 L443.5,287.8" fill="none" stroke="#000" stroke-width="1.1" stroke-linejoin="round" />
<path d="M279.1,281.0 L279.8,280.3 L280.5,279.7 L281.2,279.0 L281.8,278.4 L282.5,277.9 L283.2,277.5 L283.9,277.1 L284.6,276.7 L285.3,276.3 L286.0,276.0 L286.6,275.7 L287.3,275.3 L288.0,275.0 L288.7,274.7 L289.4,274.4 L290.1,274.1 L290.7,273.8 L291.4,273.5 L292.1,273.2 L292.8,273.0 L293.5,272.7 L294.2,272.4 L294.9,272.2 L295.5,271.9 L296.2,271.6 L296.9,271.4 L297.6,271.1 L298.3,270.9 L299.0,270.6 L299.7,270.3 L300.3,270.0 L301.0,269.7 L301.7,269.4 L302.4,269.1 L303.1,268.8 L303.8,268.5 L304.4,268.1 L305.1,267.7 L305.8,267.3 L306.5,266.9 L307.2,266.5 L307.9,266.0 L308.6,265.6 L309.2,265.2 L309.9,264.8 L310.6,264.4 L311.3,264.0 L312.0,263.6 L312.7,263.2 L313.4,262.8 L314.0,262.4 L314.7,261.9 L315.4,261.5 L316.1,261.1 L316.8,260.7 L317.5,260.3 L318.1,259.9 L318.8,259.5 L319.5,259.2 L320.2,258.8 L320.9,258.5 L321.6,258.1 L322.3,257.8 L322.9,257.5 L323.6,257.2 L324.3,256.9 L325.0,256.7 L325.7,256.4 L326.4,256.1 L327.1,255.9 L327.7,255.6 L328.4,255.4 L329.1,255.1 L329.8,254.9 L330.5,254.7 L331.2,254.5 L331.8,254.3 L332.5,254.1 L333.2,253.9 L333.9,253.7 L334.6,253.5 L335.3,253.3 L336.0,253.2 L336.6,253.0 L337.3,252.9 L338.0,252.7 L338.7,252.6 L339.4,252.4 L340.1,252.3 L340.8,252.2 L341.4,252.0 L342.1,251.9 L342.8,251.8 L343.5,251.7 L344.2,251.6 L344.9,251.5 L345.5,251.4 L346.2,251.3 L346.9,251.2 L347.6,251.1 L348.3,251.0 L349.0,250.9 L349.7,250.8 L350.3,250.7 L351.0,250.6 L351.7,250.6 L352.4,250.5 L353.1,250.4 L353.8,250.3 L354.5,250.3 L355.1,250.2 L355.8,250.1 L356.5,250.1 L357.2,250.0 L357.9,250.0 L358.6,249.9 L359.2,249.8 L359.9,249.8 L360.6,249.7 L361.3,249.7 L362.0,249.6 L362.7,249.6 L363.4,249.5 L364.0,249.4 L364.7,249.4 L365.4,249.3 L366.1,249.3 L366.8,249.2 L367.5,249.2 L368.2,249.2 L368.8,249.1 L369.5,249.1 L370.2,249.1 L370.9,249.1 L371.6,249.1 L372.3,249.1 L372.9,249.1 L373.6,249.1 L374.3,249.1 L375.0,249.1 L375.7,249.2 L376.4,249.2 L377.1,249.2 L377.7,249.2 L378.4,249.3 L379.1,249.3 L379.8,249.3 L380.5,249.4 L381.2,249.4 L381.9,249.5 L382.5,249.5 L383.2,249.5 L383.9,249.6 L384.6,249.7 L385.3,249.7 L386.0,249.8 L386.6,249.9 L387.3,250.0 L388.0,250.2 L388.7,250.3 L389.4,250.5 L390.1,250.6 L390.8,250.8 L391.4,251.0 L392.1,251.3 L392.8,251.6 L393.5,252.1 L394.2,252.6 L394.9,253.2 L395.6,253.9 L396.2,254.6 L396.9,255.3 L397.6,256.1 L398.3,257.0 L399.0,258.1 L399.7,259.4 L400.3,260.8 L401.0,262.2 L401.7,263.7 L402.4,265.2 L403.1,266.7 L403.8,268.2 L404.5,269.9 L405.1,271.6 L405.8,273.3 L406.5,274.8 L407.2,276.2 L407.9,277.2 L408.6,278.1 L409.2,279.0 L409.9,279.9 L410.6,280.6 L411.3,281.3 L412.0,282.0 L412.7,282.5 L413.4,283.0 L414.0,283.4 L414.7,283.8 L415.4,284.1 L416.1,284.5 L416.8,284.8 L417.5,285.0 L418.2,285.3 L418.8,285.5 L419.5,285.7 L420.2,285.9 L420.9,286.1 L421.6,286.2 L422.3,286.3 L423.0,286.4 L423.6,286.5 L424.3,286.6 L425.0,286.6 L425.7,286.7 L426.4,286.8 L427.1,286.8 L427.7,286.9 L428.4,286.9 L429.1,287.0 L429.8,287.0 L430.5,287.1 L431.2,287.1 L431.9,287.1 L432.5,287.2 L433.2,287.2 L433.9,287.3 L434.6,287.3 L435.3,287.3 L436.0,287.4 L436.7,287.4 L437.3,287.4 L438.0,287.5 L438.7,287.5 L439.4,287.5 L440.1,287.6 L440.8,287.6 L441.4,287.6 L442.1,287.7 L442.8,287.7 L443.5,287.8" fill="none" stroke="#000" stroke-width="1.1" stroke-linejoin="round" />
<path d="M279.1,281.0 L279.8,279.9 L280.5,278.8 L281.2,277.7 L281.8,276.5 L282.5,275.4 L283.2,274.3 L283.9,273.2 L284.6,272.1 L285.3,271.0 L286.0,269.9 L286.6,268.8 L287.3,267.7 L288.0,266.7 L288.7,265.6 L289.4,264.6 L290.1,263.5 L290.7,262.5 L291.4,261.4 L292.1,260.4 L292.8,259.4 L293.5,258.4 L294.2,257.3 L294.9,256.3 L295.5,255.3 L296.2,254.4 L296.9,253.4 L297.6,252.4 L298.3,251.4 L299.0,250.5 L299.7,249.5 L300.3,248.6 L301.0,247.7 L301.7,246.7 L302.4,245.7 L303.1,244.8 L303.8,243.9 L304.4,243.1 L305.1,242.4 L305.8,241.9 L306.5,241.3 L307.2,240.9 L307.9,240.4 L308.6,240.0 L309.2,239.5 L309.9,239.2 L310.6,238.8 L311.3,238.4 L312.0,238.1 L312.7,237.8 L313.4,237.5 L314.0,237.2 L314.7,236.9 L315.4,236.6 L316.1,236.3 L316.8,236.0 L317.5,235.8 L318.1,235.5 L318.8,235.2 L319.5,235.0 L320.2,234.7 L320.9,234.5 L321.6,234.2 L322.3,234.0 L322.9,233.8 L323.6,233.6 L324.3,233.4 L325.0,233.2 L325.7,233.1 L326.4,232.9 L327.1,232.8 L327.7,232.7 L328.4,232.6 L329.1,232.5 L329.8,232.4 L330.5,232.3 L331.2,232.2 L331.8,232.1 L332.5,232.0 L333.2,232.0 L333.9,231.9 L334.6,231.8 L335.3,231.8 L336.0,231.7 L336.6,231.6 L337.3,231.6 L338.0,231.5 L338.7,231.5 L339.4,231.4 L340.1,231.4 L340.8,231.3 L341.4,231.3 L342.1,231.2 L342.8,231.1 L343.5,231.1 L344.2,231.1 L344.9,231.0 L345.5,231.0 L346.2,230.9 L346.9,230.8 L347.6,230.8 L348.3,230.7 L349.0,230.7 L349.7,230.6 L350.3,230.6 L351.0,230.5 L351.7,230.5 L352.4,230.4 L353.1,230.3 L353.8,230.3 L354.5,230.2 L355.1,230.2 L355.8,230.1 L356.5,230.1 L357.2,230.0 L357.9,229.9 L358.6,229.9 L359.2,229.8 L359.9,229.8 L360.6,229.7 L361.3,229.7 L362.0,229.7 L362.7,229.6 L363.4,229.6 L364.0,229.5 L364.7,229.5 L365.4,229.5 L366.1,229.5 L366.8,229.4 L367.5,229.4 L368.2,229.4 L368.8,229.4 L369.5,229.4 L370.2,229.4 L370.9,229.4 L371.6,229.4 L372.3,229.4 L372.9,229.4 L373.6,229.4 L374.3,229.4 L375.0,229.4 L375.7,229.4 L376.4,229.4 L377.1,229.4 L377.7,229.4 L378.4,229.4 L379.1,229.4 L379.8,229.4 L380.5,229.4 L381.2,229.4 L381.9,229.4 L382.5,229.4 L383.2,229.4 L383.9,229.4 L384.6,229.4 L385.3,229.4 L386.0,229.4 L386.6,229.4 L387.3,229.4 L388.0,229.4 L388.7,229.4 L389.4,229.4 L390.1,229.4 L390.8,229.4 L391.4,229.4 L392.1,229.4 L392.8,229.4 L393.5,229.4 L394.2,229.4 L394.9,229.4 L395.6,229.4 L396.2,229.4 L396.9,229.4 L397.6,229.4 L398.3,229.4 L399.0,229.4 L399.7,229.4 L400.3,229.4 L401.0,229.4 L401.7,229.4 L402.4,229.4 L403.1,229.4 L403.8,229.4 L404.5,229.4 L405.1,229.4 L405.8,229.4 L406.5,229.4 L407.2,229.4 L407.9,229.4 L408.6,229.4 L409.2,229.4 L409.9,229.4 L410.6,229.4 L411.3,229.4 L412.0,229.4 L412.7,229.4 L413.4,229.4 L414.0,229.4 L414.7,229.4 L415.4,229.4 L416.1,229.4 L416.8,229.4 L417.5,229.4 L418.2,229.4 L418.8,229.4 L419.5,229.4 L420.2,229.4 L420.9,229.4 L421.6,229.4 L422.3,229.4 L423.0,229.4 L423.6,229.4 L424.3,229.4 L425.0,229.4 L425.7,229.4 L426.4,229.4 L427.1,229.4 L427.7,229.4 L428.4,229.4 L429.1,229.4 L429.8,229.4 L430.5,229.4 L431.2,229.4 L431.9,229.4 L432.5,229.4 L433.2,229.4 L433.9,229.4 L434.6,229.4 L435.3,229.4 L436.0,229.4 L436.7,229.4 L437.3,229.4 L438.0,229.4 L438.7,229.4 L439.4,229.4 L440.1,229.4 L440.8,229.4 L441.4,229.4 L442.1,229.4 L442.8,229.4 L443.5,229.4" fill="none" stroke="#cdcdcd" stroke-width="2.1" stroke-linejoin="round" stroke-dasharray="3,1.5"/>
<path d="M279.1,281.9 L279.8,281.0 L280.5,280.0 L281.2,279.1 L281.8,278.3 L282.5,277.5 L283.2,276.8 L283.9,276.0 L284.6,275.3 L285.3,274.6 L286.0,273.9 L286.6,273.2 L287.3,272.5 L288.0,271.9 L288.7,271.2 L289.4,270.6 L290.1,270.0 L290.7,269.3 L291.4,268.7 L292.1,268.1 L292.8,267.5 L293.5,266.9 L294.2,266.4 L294.9,265.8 L295.5,265.2 L296.2,264.7 L296.9,264.1 L297.6,263.5 L298.3,262.9 L299.0,262.4 L299.7,261.8 L300.3,261.2 L301.0,260.7 L301.7,260.1 L302.4,259.5 L303.1,258.9 L303.8,258.3 L304.4,257.7 L305.1,257.1 L305.8,256.6 L306.5,255.9 L307.2,255.3 L307.9,254.6 L308.6,253.8 L309.2,253.0 L309.9,251.9 L310.6,250.8 L311.3,249.8 L312.0,248.9 L312.7,248.0 L313.4,247.1 L314.0,246.2 L314.7,245.4 L315.4,244.6 L316.1,243.9 L316.8,243.2 L317.5,242.6 L318.1,242.0 L318.8,241.4 L319.5,240.8 L320.2,240.2 L320.9,239.7 L321.6,239.2 L322.3,238.7 L322.9,238.3 L323.6,237.9 L324.3,237.5 L325.0,237.2 L325.7,236.9 L326.4,236.6 L327.1,236.2 L327.7,235.9 L328.4,235.5 L329.1,235.0 L329.8,234.5 L330.5,233.9 L331.2,233.2 L331.8,232.5 L332.5,231.9 L333.2,231.2 L333.9,230.6 L334.6,230.0 L335.3,229.5 L336.0,229.0 L336.6,228.4 L337.3,227.9 L338.0,227.4 L338.7,226.9 L339.4,226.6 L340.1,226.3 L340.8,226.2 L341.4,226.2 L342.1,226.2 L342.8,226.1 L343.5,226.1 L344.2,226.1 L344.9,226.1 L345.5,226.0 L346.2,226.0 L346.9,226.0 L347.6,226.0 L348.3,226.0 L349.0,226.0 L349.7,226.0 L350.3,225.9 L351.0,225.9 L351.7,225.9 L352.4,225.9 L353.1,225.9 L353.8,225.9 L354.5,225.9 L355.1,225.9 L355.8,225.8 L356.5,225.8 L357.2,225.8 L357.9,225.8 L358.6,225.8 L359.2,225.8 L359.9,225.8 L360.6,225.8 L361.3,225.8 L362.0,225.7 L362.7,225.7 L363.4,225.7 L364.0,225.7 L364.7,225.7 L365.4,225.7 L366.1,225.7 L366.8,225.7 L367.5,225.7 L368.2,225.7 L368.8,225.7 L369.5,225.6 L370.2,225.6 L370.9,225.6 L371.6,225.6 L372.3,225.6 L372.9,225.6 L373.6,225.6 L374.3,225.6 L375.0,225.6 L375.7,225.6 L376.4,225.6 L377.1,225.6 L377.7,225.6 L378.4,225.6 L379.1,225.6 L379.8,225.6 L380.5,225.6 L381.2,225.6 L381.9,225.6 L382.5,225.6 L383.2,225.6 L383.9,225.6 L384.6,225.6 L385.3,225.5 L386.0,225.5 L386.6,225.5 L387.3,225.5 L388.0,225.5 L388.7,225.5 L389.4,225.5 L390.1,225.5 L390.8,225.5 L391.4,225.5 L392.1,225.5 L392.8,225.5 L393.5,225.5 L394.2,225.5 L394.9,225.5 L395.6,225.5 L396.2,225.5 L396.9,225.5 L397.6,225.5 L398.3,225.5 L399.0,225.5 L399.7,225.5 L400.3,225.5 L401.0,225.5 L401.7,225.5 L402.4,225.5 L403.1,225.5 L403.8,225.5 L404.5,225.5 L405.1,225.5 L405.8,225.5 L406.5,225.4 L407.2,225.4 L407.9,225.4 L408.6,225.4 L409.2,225.4 L409.9,225.4 L410.6,225.4 L411.3,225.4 L412.0,225.4 L412.7,225.4 L413.4,225.4 L414.0,225.4 L414.7,225.4 L415.4,225.4 L416.1,225.4 L416.8,225.3 L417.5,225.3 L418.2,225.3 L418.8,225.3 L419.5,225.3 L420.2,225.3 L420.9,225.3 L421.6,225.2 L422.3,225.2 L423.0,225.2 L423.6,225.2 L424.3,225.2 L425.0,225.2 L425.7,225.2 L426.4,225.1 L427.1,225.1 L427.7,225.1 L428.4,225.1 L429.1,225.1 L429.8,225.0 L430.5,225.0 L431.2,225.0 L431.9,225.0 L432.5,225.0 L433.2,225.0 L433.9,224.9 L434.6,224.9 L435.3,224.9 L436.0,224.9 L436.7,224.9 L437.3,224.9 L438.0,224.8 L438.7,224.8 L439.4,224.8 L440.1,224.8 L440.8,224.8 L441.4,224.8 L442.1,224.7 L442.8,224.7 L443.5,224.7" fill="none" stroke="#3a6ca6" stroke-width="1.3" stroke-linejoin="round" />
<path d="M279.1,281.0 L279.8,280.0 L280.5,279.1 L281.2,278.2 L281.8,277.4 L282.5,276.6 L283.2,275.8 L283.9,275.1 L284.6,274.4 L285.3,273.7 L286.0,273.0 L286.6,272.3 L287.3,271.6 L288.0,270.9 L288.7,270.3 L289.4,269.6 L290.1,269.0 L290.7,268.4 L291.4,267.8 L292.1,267.2 L292.8,266.6 L293.5,266.0 L294.2,265.4 L294.9,264.8 L295.5,264.3 L296.2,263.7 L296.9,263.1 L297.6,262.6 L298.3,262.0 L299.0,261.4 L299.7,260.9 L300.3,260.3 L301.0,259.7 L301.7,259.1 L302.4,258.6 L303.1,258.0 L303.8,257.4 L304.4,256.8 L305.1,256.2 L305.8,255.6 L306.5,255.0 L307.2,254.3 L307.9,253.6 L308.6,252.9 L309.2,252.0 L309.9,250.9 L310.6,249.8 L311.3,248.8 L312.0,247.9 L312.7,247.0 L313.4,246.1 L314.0,245.3 L314.7,244.5 L315.4,243.7 L316.1,243.0 L316.8,242.3 L317.5,241.6 L318.1,241.0 L318.8,240.4 L319.5,239.8 L320.2,239.3 L320.9,238.8 L321.6,238.3 L322.3,237.8 L322.9,237.4 L323.6,237.0 L324.3,236.6 L325.0,236.3 L325.7,235.9 L326.4,235.6 L327.1,235.3 L327.7,234.9 L328.4,234.5 L329.1,234.1 L329.8,233.5 L330.5,232.9 L331.2,232.3 L331.8,231.6 L332.5,230.9 L333.2,230.3 L333.9,229.6 L334.6,229.1 L335.3,228.6 L336.0,228.0 L336.6,227.5 L337.3,226.9 L338.0,226.4 L338.7,226.0 L339.4,225.7 L340.1,225.4 L340.8,225.3 L341.4,225.3 L342.1,225.2 L342.8,225.2 L343.5,225.2 L344.2,225.1 L344.9,225.1 L345.5,225.1 L346.2,225.1 L346.9,225.1 L347.6,225.1 L348.3,225.0 L349.0,225.0 L349.7,225.0 L350.3,225.0 L351.0,225.0 L351.7,225.0 L352.4,225.0 L353.1,225.0 L353.8,225.0 L354.5,224.9 L355.1,224.9 L355.8,224.9 L356.5,224.9 L357.2,224.9 L357.9,224.9 L358.6,224.9 L359.2,224.8 L359.9,224.8 L360.6,224.8 L361.3,224.8 L362.0,224.8 L362.7,224.8 L363.4,224.8 L364.0,224.8 L364.7,224.8 L365.4,224.8 L366.1,224.7 L366.8,224.7 L367.5,224.7 L368.2,224.7 L368.8,224.7 L369.5,224.7 L370.2,224.7 L370.9,224.7 L371.6,224.7 L372.3,224.7 L372.9,224.7 L373.6,224.7 L374.3,224.7 L375.0,224.7 L375.7,224.7 L376.4,224.7 L377.1,224.7 L377.7,224.6 L378.4,224.6 L379.1,224.6 L379.8,224.6 L380.5,224.6 L381.2,224.6 L381.9,224.6 L382.5,224.6 L383.2,224.6 L383.9,224.6 L384.6,224.6 L385.3,224.6 L386.0,224.6 L386.6,224.6 L387.3,224.6 L388.0,224.6 L388.7,224.6 L389.4,224.6 L390.1,224.6 L390.8,224.6 L391.4,224.6 L392.1,224.6 L392.8,224.6 L393.5,224.6 L394.2,224.6 L394.9,224.6 L395.6,224.6 L396.2,224.6 L396.9,224.6 L397.6,224.6 L398.3,224.6 L399.0,224.6 L399.7,224.6 L400.3,224.5 L401.0,224.5 L401.7,224.5 L402.4,224.5 L403.1,224.5 L403.8,224.5 L404.5,224.5 L405.1,224.5 L405.8,224.5 L406.5,224.5 L407.2,224.5 L407.9,224.5 L408.6,224.5 L409.2,224.5 L409.9,224.5 L410.6,224.5 L411.3,224.5 L412.0,224.5 L412.7,224.5 L413.4,224.5 L414.0,224.4 L414.7,224.4 L415.4,224.4 L416.1,224.4 L416.8,224.4 L417.5,224.4 L418.2,224.4 L418.8,224.4 L419.5,224.4 L420.2,224.3 L420.9,224.3 L421.6,224.3 L422.3,224.3 L423.0,224.3 L423.6,224.3 L424.3,224.2 L425.0,224.2 L425.7,224.2 L426.4,224.2 L427.1,224.2 L427.7,224.2 L428.4,224.1 L429.1,224.1 L429.8,224.1 L430.5,224.1 L431.2,224.1 L431.9,224.1 L432.5,224.0 L433.2,224.0 L433.9,224.0 L434.6,224.0 L435.3,224.0 L436.0,224.0 L436.7,223.9 L437.3,223.9 L438.0,223.9 L438.7,223.9 L439.4,223.9 L440.1,223.8 L440.8,223.8 L441.4,223.8 L442.1,223.8 L442.8,223.8 L443.5,223.8" fill="none" stroke="#4a7fb6" stroke-width="1.1" stroke-linejoin="round" />
<path d="M279.1,281.4 L279.8,280.5 L280.5,279.6 L281.2,278.7 L281.8,277.9 L282.5,277.1 L283.2,276.3 L283.9,275.6 L284.6,274.8 L285.3,274.1 L286.0,273.4 L286.6,272.7 L287.3,272.1 L288.0,271.4 L288.7,270.8 L289.4,270.1 L290.1,269.5 L290.7,268.9 L291.4,268.2 L292.1,267.6 L292.8,267.0 L293.5,266.5 L294.2,265.9 L294.9,265.3 L295.5,264.8 L296.2,264.2 L296.9,263.6 L297.6,263.0 L298.3,262.5 L299.0,261.9 L299.7,261.3 L300.3,260.8 L301.0,260.2 L301.7,259.6 L302.4,259.0 L303.1,258.4 L303.8,257.8 L304.4,257.3 L305.1,256.7 L305.8,256.1 L306.5,255.5 L307.2,254.8 L307.9,254.1 L308.6,253.4 L309.2,252.5 L309.9,251.4 L310.6,250.3 L311.3,249.3 L312.0,248.4 L312.7,247.5 L313.4,246.6 L314.0,245.8 L314.7,244.9 L315.4,244.2 L316.1,243.4 L316.8,242.8 L317.5,242.1 L318.1,241.5 L318.8,240.9 L319.5,240.3 L320.2,239.8 L320.9,239.2 L321.6,238.7 L322.3,238.3 L322.9,237.8 L323.6,237.4 L324.3,237.1 L325.0,236.7 L325.7,236.4 L326.4,236.1 L327.1,235.8 L327.7,235.4 L328.4,235.0 L329.1,234.5 L329.8,234.0 L330.5,233.4 L331.2,232.8 L331.8,232.1 L332.5,231.4 L333.2,230.7 L333.9,230.1 L334.6,229.5 L335.3,229.0 L336.0,228.5 L336.6,227.9 L337.3,227.4 L338.0,226.9 L338.7,226.5 L339.4,226.1 L340.1,225.9 L340.8,225.8 L341.4,225.7 L342.1,225.7 L342.8,225.7 L343.5,225.6 L344.2,225.6 L344.9,225.6 L345.5,225.6 L346.2,225.6 L346.9,225.5 L347.6,225.5 L348.3,225.5 L349.0,225.5 L349.7,225.5 L350.3,225.5 L351.0,225.5 L351.7,225.5 L352.4,225.4 L353.1,225.4 L353.8,225.4 L354.5,225.4 L355.1,225.4 L355.8,225.4 L356.5,225.4 L357.2,225.3 L357.9,225.3 L358.6,225.3 L359.2,225.3 L359.9,225.3 L360.6,225.3 L361.3,225.2 L362.0,225.2 L362.7,225.2 L363.4,225.2 L364.0,225.2 L364.7,225.2 L365.4,225.2 L366.1,225.1 L366.8,225.1 L367.5,225.1 L368.2,225.1 L368.8,225.1 L369.5,225.0 L370.2,225.0 L370.9,225.0 L371.6,225.0 L372.3,224.9 L372.9,224.9 L373.6,224.9 L374.3,224.8 L375.0,224.8 L375.7,224.7 L376.4,224.7 L377.1,224.6 L377.7,224.6 L378.4,224.5 L379.1,224.5 L379.8,224.4 L380.5,224.4 L381.2,224.3 L381.9,224.2 L382.5,224.2 L383.2,224.1 L383.9,224.1 L384.6,224.0 L385.3,223.9 L386.0,223.9 L386.6,223.8 L387.3,223.7 L388.0,223.7 L388.7,223.6 L389.4,223.5 L390.1,223.5 L390.8,223.4 L391.4,223.3 L392.1,223.3 L392.8,223.2 L393.5,223.1 L394.2,223.1 L394.9,223.0 L395.6,223.0 L396.2,222.9 L396.9,222.8 L397.6,222.8 L398.3,222.7 L399.0,222.7 L399.7,222.6 L400.3,222.6 L401.0,222.5 L401.7,222.5 L402.4,222.4 L403.1,222.4 L403.8,222.4 L404.5,222.3 L405.1,222.3 L405.8,222.3 L406.5,222.2 L407.2,222.2 L407.9,222.2 L408.6,222.2 L409.2,222.1 L409.9,222.1 L410.6,222.1 L411.3,222.1 L412.0,222.1 L412.7,222.1 L413.4,222.1 L414.0,222.1 L414.7,222.2 L415.4,222.2 L416.1,222.2 L416.8,222.2 L417.5,222.2 L418.2,222.3 L418.8,222.3 L419.5,222.3 L420.2,222.4 L420.9,222.4 L421.6,222.5 L422.3,222.5 L423.0,222.5 L423.6,222.6 L424.3,222.6 L425.0,222.7 L425.7,222.7 L426.4,222.8 L427.1,222.8 L427.7,222.9 L428.4,222.9 L429.1,223.0 L429.8,223.1 L430.5,223.1 L431.2,223.2 L431.9,223.2 L432.5,223.3 L433.2,223.3 L433.9,223.4 L434.6,223.5 L435.3,223.5 L436.0,223.6 L436.7,223.6 L437.3,223.7 L438.0,223.7 L438.7,223.8 L439.4,223.8 L440.1,223.9 L440.8,223.9 L441.4,224.0 L442.1,224.0 L442.8,224.1 L443.5,224.1" fill="none" stroke="#2f62a0" stroke-width="1.2" stroke-linejoin="round" />
<path d="M279.1,280.7 L279.8,279.0 L280.5,277.3 L281.2,276.0 L281.8,274.7 L282.5,273.6 L283.2,272.5 L283.9,271.5 L284.6,270.5 L285.3,269.5 L286.0,268.6 L286.6,267.6 L287.3,266.7 L288.0,265.7 L288.7,264.8 L289.4,263.9 L290.1,263.0 L290.7,262.2 L291.4,261.3 L292.1,260.5 L292.8,259.6 L293.5,258.7 L294.2,257.8 L294.9,256.8 L295.5,255.8 L296.2,254.8 L296.9,253.7 L297.6,252.7 L298.3,251.6 L299.0,250.5 L299.7,249.5 L300.3,248.4 L301.0,247.3 L301.7,246.2 L302.4,245.2 L303.1,244.1 L303.8,243.1 L304.4,242.0 L305.1,240.9 L305.8,239.9 L306.5,238.8 L307.2,237.7 L307.9,236.7 L308.6,235.6 L309.2,234.7 L309.9,233.7 L310.6,232.8 L311.3,232.0 L312.0,231.2 L312.7,230.4 L313.4,229.7 L314.0,229.1 L314.7,228.4 L315.4,227.7 L316.1,227.0 L316.8,226.3 L317.5,225.6 L318.1,224.8 L318.8,224.0 L319.5,223.3 L320.2,222.6 L320.9,221.9 L321.6,221.2 L322.3,220.7 L322.9,220.0 L323.6,219.4 L324.3,218.9 L325.0,218.4 L325.7,218.1 L326.4,218.0 L327.1,217.9 L327.7,217.8 L328.4,217.7 L329.1,217.7 L329.8,217.6 L330.5,217.5 L331.2,217.5 L331.8,217.5 L332.5,217.5 L333.2,217.4 L333.9,217.4 L334.6,217.4 L335.3,217.4 L336.0,217.4 L336.6,217.4 L337.3,217.4 L338.0,217.4 L338.7,217.4 L339.4,217.4 L340.1,217.4 L340.8,217.4 L341.4,217.4 L342.1,217.4 L342.8,217.4 L343.5,217.4 L344.2,217.4 L344.9,217.4 L345.5,217.4 L346.2,217.4 L346.9,217.4 L347.6,217.4 L348.3,217.4 L349.0,217.4 L349.7,217.4 L350.3,217.4 L351.0,217.4 L351.7,217.4 L352.4,217.4 L353.1,217.4 L353.8,217.4 L354.5,217.4 L355.1,217.4 L355.8,217.4 L356.5,217.4 L357.2,217.4 L357.9,217.4 L358.6,217.4 L359.2,217.4 L359.9,217.4 L360.6,217.4 L361.3,217.4 L362.0,217.4 L362.7,217.4 L363.4,217.4 L364.0,217.4 L364.7,217.4 L365.4,217.4 L366.1,217.4 L366.8,217.4 L367.5,217.4 L368.2,217.4 L368.8,217.4 L369.5,217.4 L370.2,217.4 L370.9,217.4 L371.6,217.4 L372.3,217.4 L372.9,217.4 L373.6,217.4 L374.3,217.4 L375.0,217.4 L375.7,217.4 L376.4,217.4 L377.1,217.4 L377.7,217.4 L378.4,217.4 L379.1,217.4 L379.8,217.4 L380.5,217.4 L381.2,217.4 L381.9,217.4 L382.5,217.3 L383.2,217.3 L383.9,217.3 L384.6,217.3 L385.3,217.3 L386.0,217.3 L386.6,217.3 L387.3,217.3 L388.0,217.3 L388.7,217.2 L389.4,217.2 L390.1,217.2 L390.8,217.2 L391.4,217.2 L392.1,217.2 L392.8,217.1 L393.5,217.1 L394.2,217.1 L394.9,217.1 L395.6,217.1 L396.2,217.1 L396.9,217.1 L397.6,217.0 L398.3,217.0 L399.0,217.0 L399.7,217.0 L400.3,217.0 L401.0,216.9 L401.7,216.9 L402.4,216.9 L403.1,216.9 L403.8,216.9 L404.5,216.8 L405.1,216.8 L405.8,216.8 L406.5,216.8 L407.2,216.8 L407.9,216.7 L408.6,216.7 L409.2,216.7 L409.9,216.7 L410.6,216.7 L411.3,216.6 L412.0,216.6 L412.7,216.6 L413.4,216.6 L414.0,216.6 L414.7,216.5 L415.4,216.5 L416.1,216.5 L416.8,216.5 L417.5,216.4 L418.2,216.4 L418.8,216.4 L419.5,216.4 L420.2,216.4 L420.9,216.3 L421.6,216.3 L422.3,216.3 L423.0,216.3 L423.6,216.2 L424.3,216.2 L425.0,216.2 L425.7,216.2 L426.4,216.2 L427.1,216.1 L427.7,216.1 L428.4,216.1 L429.1,216.1 L429.8,216.1 L430.5,216.0 L431.2,216.0 L431.9,216.0 L432.5,216.0 L433.2,216.0 L433.9,215.9 L434.6,215.9 L435.3,215.9 L436.0,215.9 L436.7,215.9 L437.3,215.8 L438.0,215.8 L438.7,215.8 L439.4,215.8 L440.1,215.8 L440.8,215.7 L441.4,215.7 L442.1,215.7 L442.8,215.7 L443.5,215.7" fill="none" stroke="#6aa5d9" stroke-width="2.0" stroke-linejoin="round" />
<path d="M279.1,279.3 L279.8,277.6 L280.5,275.9 L281.2,274.6 L281.8,273.3 L282.5,272.2 L283.2,271.1 L283.9,270.0 L284.6,269.1 L285.3,268.1 L286.0,267.2 L286.6,266.2 L287.3,265.3 L288.0,264.3 L288.7,263.4 L289.4,262.5 L290.1,261.6 L290.7,260.8 L291.4,259.9 L292.1,259.1 L292.8,258.2 L293.5,257.3 L294.2,256.4 L294.9,255.4 L295.5,254.4 L296.2,253.4 L296.9,252.3 L297.6,251.3 L298.3,250.2 L299.0,249.1 L299.7,248.1 L300.3,247.0 L301.0,245.9 L301.7,244.8 L302.4,243.8 L303.1,242.7 L303.8,241.7 L304.4,240.6 L305.1,239.5 L305.8,238.4 L306.5,237.4 L307.2,236.3 L307.9,235.3 L308.6,234.2 L309.2,233.2 L309.9,232.3 L310.6,231.4 L311.3,230.6 L312.0,229.8 L312.7,229.0 L313.4,228.3 L314.0,227.7 L314.7,227.0 L315.4,226.3 L316.1,225.6 L316.8,224.9 L317.5,224.2 L318.1,223.4 L318.8,222.6 L319.5,221.9 L320.2,221.2 L320.9,220.5 L321.6,219.8 L322.3,219.3 L322.9,218.6 L323.6,218.0 L324.3,217.5 L325.0,217.0 L325.7,216.7 L326.4,216.6 L327.1,216.5 L327.7,216.4 L328.4,216.3 L329.1,216.3 L329.8,216.2 L330.5,216.1 L331.2,216.1 L331.8,216.1 L332.5,216.0 L333.2,216.0 L333.9,216.0 L334.6,216.0 L335.3,216.0 L336.0,216.0 L336.6,216.0 L337.3,216.0 L338.0,216.0 L338.7,216.0 L339.4,216.0 L340.1,216.0 L340.8,216.0 L341.4,216.0 L342.1,216.0 L342.8,216.0 L343.5,216.0 L344.2,216.0 L344.9,216.0 L345.5,216.0 L346.2,216.0 L346.9,216.0 L347.6,216.0 L348.3,216.0 L349.0,216.0 L349.7,216.0 L350.3,216.0 L351.0,216.0 L351.7,216.0 L352.4,216.0 L353.1,216.0 L353.8,216.0 L354.5,216.0 L355.1,216.0 L355.8,216.0 L356.5,216.0 L357.2,216.0 L357.9,216.0 L358.6,216.0 L359.2,216.0 L359.9,216.0 L360.6,216.0 L361.3,216.0 L362.0,216.0 L362.7,216.0 L363.4,216.0 L364.0,216.0 L364.7,216.0 L365.4,216.0 L366.1,216.0 L366.8,216.0 L367.5,216.0 L368.2,216.0 L368.8,216.0 L369.5,216.0 L370.2,216.0 L370.9,216.0 L371.6,216.0 L372.3,216.0 L372.9,216.0 L373.6,216.0 L374.3,216.0 L375.0,216.0 L375.7,216.0 L376.4,216.0 L377.1,216.0 L377.7,216.0 L378.4,216.0 L379.1,216.0 L379.8,216.0 L380.5,216.0 L381.2,216.0 L381.9,215.9 L382.5,215.9 L383.2,215.9 L383.9,215.9 L384.6,215.9 L385.3,215.9 L386.0,215.9 L386.6,215.9 L387.3,215.9 L388.0,215.8 L388.7,215.8 L389.4,215.8 L390.1,215.8 L390.8,215.8 L391.4,215.8 L392.1,215.8 L392.8,215.7 L393.5,215.7 L394.2,215.7 L394.9,215.7 L395.6,215.7 L396.2,215.7 L396.9,215.6 L397.6,215.6 L398.3,215.6 L399.0,215.6 L399.7,215.6 L400.3,215.6 L401.0,215.5 L401.7,215.5 L402.4,215.5 L403.1,215.5 L403.8,215.5 L404.5,215.4 L405.1,215.4 L405.8,215.4 L406.5,215.4 L407.2,215.4 L407.9,215.3 L408.6,215.3 L409.2,215.3 L409.9,215.3 L410.6,215.3 L411.3,215.2 L412.0,215.2 L412.7,215.2 L413.4,215.2 L414.0,215.1 L414.7,215.1 L415.4,215.1 L416.1,215.1 L416.8,215.1 L417.5,215.0 L418.2,215.0 L418.8,215.0 L419.5,215.0 L420.2,214.9 L420.9,214.9 L421.6,214.9 L422.3,214.9 L423.0,214.9 L423.6,214.8 L424.3,214.8 L425.0,214.8 L425.7,214.8 L426.4,214.8 L427.1,214.7 L427.7,214.7 L428.4,214.7 L429.1,214.7 L429.8,214.6 L430.5,214.6 L431.2,214.6 L431.9,214.6 L432.5,214.6 L433.2,214.5 L433.9,214.5 L434.6,214.5 L435.3,214.5 L436.0,214.5 L436.7,214.5 L437.3,214.4 L438.0,214.4 L438.7,214.4 L439.4,214.4 L440.1,214.4 L440.8,214.3 L441.4,214.3 L442.1,214.3 L442.8,214.3 L443.5,214.3" fill="none" stroke="#74acdd" stroke-width="1.8" stroke-linejoin="round" />
<text x="286.40000000000003" y="183.2" font-size="9" text-anchor="start" fill="#000" >MOI</text>
<text x="285.40000000000003" y="193" font-size="8.7" text-anchor="start" fill="#000" >Empty vector</text>
<text x="286.40000000000003" y="204.7" font-size="8.7" text-anchor="start" fill="#000" >CMoRE</text>
<text x="355.3" y="168.5" font-size="9" text-anchor="start" fill="#000" >Phage T4</text>
<text x="344.1" y="183.2" font-size="9" text-anchor="start" fill="#000" >0</text>
<text x="356.0" y="183.2" font-size="9" text-anchor="start" fill="#000" >0.02</text>
<text x="380.1" y="183.2" font-size="9" text-anchor="start" fill="#000" >2</text>
<line x1="342.0" y1="190.3" x2="352.40000000000003" y2="190.3" stroke="#d6d6d6" stroke-width="1.2" stroke-dasharray="4,2"/>
<line x1="356.90000000000003" y1="190.3" x2="370.3" y2="190.3" stroke="#c4c4c4" stroke-width="1.2" />
<line x1="375.3" y1="190.3" x2="388.8" y2="190.3" stroke="#111" stroke-width="1.3" />
<line x1="342.0" y1="202.5" x2="352.40000000000003" y2="202.5" stroke="#6ea8dc" stroke-width="1.2" stroke-dasharray="4,2"/>
<line x1="356.90000000000003" y1="202.5" x2="370.3" y2="202.5" stroke="#6ea8dc" stroke-width="1.2" />
<line x1="375.3" y1="202.5" x2="388.8" y2="202.5" stroke="#3e71a8" stroke-width="1.3" />
<line x1="511.3" y1="186.7" x2="511.3" y2="305.0" stroke="#000" stroke-width="1.2" />
<line x1="510.7" y1="304.4" x2="676.3000000000001" y2="304.4" stroke="#000" stroke-width="1.2" />
<line x1="508.8" y1="304.40" x2="511.3" y2="304.40" stroke="#000" stroke-width="1.1" />
<text x="506.7" y="307.10" font-size="9.3" text-anchor="end" fill="#000" >0.0</text>
<line x1="508.8" y1="280.96" x2="511.3" y2="280.96" stroke="#000" stroke-width="1.1" />
<text x="506.7" y="283.66" font-size="9.3" text-anchor="end" fill="#000" >0.2</text>
<line x1="508.8" y1="257.52" x2="511.3" y2="257.52" stroke="#000" stroke-width="1.1" />
<text x="506.7" y="260.22" font-size="9.3" text-anchor="end" fill="#000" >0.4</text>
<line x1="508.8" y1="234.08" x2="511.3" y2="234.08" stroke="#000" stroke-width="1.1" />
<text x="506.7" y="236.78" font-size="9.3" text-anchor="end" fill="#000" >0.6</text>
<line x1="508.8" y1="210.64" x2="511.3" y2="210.64" stroke="#000" stroke-width="1.1" />
<text x="506.7" y="213.34" font-size="9.3" text-anchor="end" fill="#000" >0.8</text>
<line x1="508.8" y1="187.20" x2="511.3" y2="187.20" stroke="#000" stroke-width="1.1" />
<text x="506.7" y="189.90" font-size="9.3" text-anchor="end" fill="#000" >1.0</text>
<line x1="511.30" y1="304.4" x2="511.30" y2="306.9" stroke="#000" stroke-width="1.1" />
<text x="512.80" y="318.8" font-size="9.2" text-anchor="middle" fill="#000" >0</text>
<line x1="531.85" y1="304.4" x2="531.85" y2="306.9" stroke="#000" stroke-width="1.1" />
<text x="533.35" y="318.8" font-size="9.2" text-anchor="middle" fill="#000" >60</text>
<line x1="552.40" y1="304.4" x2="552.40" y2="306.9" stroke="#000" stroke-width="1.1" />
<text x="553.90" y="318.8" font-size="9.2" text-anchor="middle" fill="#000" >120</text>
<line x1="572.95" y1="304.4" x2="572.95" y2="306.9" stroke="#000" stroke-width="1.1" />
<text x="574.45" y="318.8" font-size="9.2" text-anchor="middle" fill="#000" >180</text>
<line x1="593.50" y1="304.4" x2="593.50" y2="306.9" stroke="#000" stroke-width="1.1" />
<text x="595.00" y="318.8" font-size="9.2" text-anchor="middle" fill="#000" >240</text>
<line x1="614.05" y1="304.4" x2="614.05" y2="306.9" stroke="#000" stroke-width="1.1" />
<text x="615.55" y="318.8" font-size="9.2" text-anchor="middle" fill="#000" >300</text>
<line x1="634.60" y1="304.4" x2="634.60" y2="306.9" stroke="#000" stroke-width="1.1" />
<text x="636.10" y="318.8" font-size="9.2" text-anchor="middle" fill="#000" >360</text>
<line x1="655.15" y1="304.4" x2="655.15" y2="306.9" stroke="#000" stroke-width="1.1" />
<text x="656.65" y="318.8" font-size="9.2" text-anchor="middle" fill="#000" >420</text>
<line x1="675.70" y1="304.4" x2="675.70" y2="306.9" stroke="#000" stroke-width="1.1" />
<text x="677.20" y="318.8" font-size="9.2" text-anchor="middle" fill="#000" >480</text>
<text x="599.30" y="333" font-size="8.9" text-anchor="middle" fill="#000" >Time (min)</text>
<text transform="translate(485.7,255.3) rotate(-90)" font-size="10.6">OD<tspan font-size="5.2" dy="1.8">600</tspan></text>
<path d="M511.3,281.0 L512.0,278.4 L512.7,276.7 L513.4,275.4 L514.0,274.1 L514.7,273.0 L515.4,271.9 L516.1,270.8 L516.8,269.9 L517.5,269.0 L518.1,268.1 L518.8,267.3 L519.5,266.5 L520.2,265.8 L520.9,265.1 L521.6,264.4 L522.3,263.8 L522.9,263.2 L523.6,262.5 L524.3,261.9 L525.0,261.3 L525.7,260.7 L526.4,260.1 L527.1,259.5 L527.7,258.8 L528.4,258.2 L529.1,257.6 L529.8,257.1 L530.5,256.5 L531.2,255.9 L531.9,255.4 L532.5,254.9 L533.2,254.3 L533.9,253.8 L534.6,253.3 L535.3,252.9 L536.0,252.4 L536.6,251.9 L537.3,251.5 L538.0,251.0 L538.7,250.6 L539.4,250.2 L540.1,249.7 L540.8,249.3 L541.4,248.8 L542.1,248.4 L542.8,248.0 L543.5,247.6 L544.2,247.2 L544.9,246.8 L545.5,246.4 L546.2,246.1 L546.9,245.8 L547.6,245.5 L548.3,245.3 L549.0,245.0 L549.7,244.9 L550.3,244.7 L551.0,244.5 L551.7,244.4 L552.4,244.2 L553.1,244.1 L553.8,244.0 L554.5,243.8 L555.1,243.7 L555.8,243.6 L556.5,243.5 L557.2,243.4 L557.9,243.2 L558.6,243.1 L559.2,243.0 L559.9,242.9 L560.6,242.7 L561.3,242.6 L562.0,242.4 L562.7,242.3 L563.4,242.1 L564.0,241.9 L564.7,241.7 L565.4,241.6 L566.1,241.4 L566.8,241.2 L567.5,241.0 L568.2,240.9 L568.8,240.7 L569.5,240.6 L570.2,240.4 L570.9,240.3 L571.6,240.2 L572.3,240.1 L573.0,240.1 L573.6,240.0 L574.3,240.0 L575.0,240.0 L575.7,240.0 L576.4,240.2 L577.1,240.5 L577.7,240.9 L578.4,241.3 L579.1,241.8 L579.8,242.3 L580.5,242.8 L581.2,243.3 L581.9,243.8 L582.5,244.2 L583.2,244.5 L583.9,244.8 L584.6,245.2 L585.3,245.5 L586.0,245.8 L586.6,246.1 L587.3,246.4 L588.0,246.7 L588.7,246.9 L589.4,247.2 L590.1,247.5 L590.8,247.8 L591.4,248.1 L592.1,248.4 L592.8,248.7 L593.5,249.0 L594.2,249.3 L594.9,249.7 L595.6,250.0 L596.2,250.4 L596.9,250.8 L597.6,251.2 L598.3,251.6 L599.0,252.0 L599.7,252.5 L600.4,253.0 L601.0,253.5 L601.7,254.0 L602.4,254.5 L603.1,255.0 L603.8,255.6 L604.5,256.1 L605.1,256.6 L605.8,257.2 L606.5,257.7 L607.2,258.3 L607.9,258.8 L608.6,259.3 L609.3,259.8 L609.9,260.3 L610.6,260.9 L611.3,261.4 L612.0,262.0 L612.7,262.5 L613.4,263.1 L614.1,263.6 L614.7,264.1 L615.4,264.7 L616.1,265.2 L616.8,265.7 L617.5,266.1 L618.2,266.6 L618.8,267.0 L619.5,267.5 L620.2,267.8 L620.9,268.2 L621.6,268.6 L622.3,268.9 L623.0,269.3 L623.6,269.6 L624.3,269.9 L625.0,270.3 L625.7,270.6 L626.4,270.9 L627.1,271.2 L627.8,271.6 L628.4,271.9 L629.1,272.3 L629.8,272.6 L630.5,273.0 L631.2,273.3 L631.9,273.6 L632.5,274.0 L633.2,274.3 L633.9,274.6 L634.6,274.9 L635.3,275.2 L636.0,275.5 L636.7,275.8 L637.3,276.1 L638.0,276.4 L638.7,276.7 L639.4,276.9 L640.1,277.2 L640.8,277.5 L641.5,277.8 L642.1,278.0 L642.8,278.3 L643.5,278.5 L644.2,278.8 L644.9,279.0 L645.6,279.2 L646.2,279.5 L646.9,279.7 L647.6,279.9 L648.3,280.1 L649.0,280.2 L649.7,280.4 L650.4,280.6 L651.0,280.7 L651.7,280.9 L652.4,281.1 L653.1,281.2 L653.8,281.4 L654.5,281.5 L655.2,281.7 L655.8,281.8 L656.5,282.0 L657.2,282.1 L657.9,282.2 L658.6,282.3 L659.3,282.4 L659.9,282.5 L660.6,282.6 L661.3,282.7 L662.0,282.8 L662.7,282.9 L663.4,282.9 L664.1,283.0 L664.7,283.1 L665.4,283.1 L666.1,283.2 L666.8,283.2 L667.5,283.3 L668.2,283.3 L668.9,283.3 L669.5,283.4 L670.2,283.4 L670.9,283.5 L671.6,283.5 L672.3,283.6 L673.0,283.6 L673.6,283.6 L674.3,283.7 L675.0,283.7 L675.7,283.8" fill="none" stroke="#bdbdbd" stroke-width="1.2" stroke-linejoin="round" />
<path d="M511.3,281.0 L512.0,278.4 L512.7,276.8 L513.4,275.5 L514.0,274.4 L514.7,273.3 L515.4,272.2 L516.1,271.3 L516.8,270.4 L517.5,269.6 L518.1,268.8 L518.8,268.1 L519.5,267.4 L520.2,266.7 L520.9,266.1 L521.6,265.5 L522.3,265.0 L522.9,264.4 L523.6,263.9 L524.3,263.3 L525.0,262.8 L525.7,262.3 L526.4,261.7 L527.1,261.1 L527.7,260.6 L528.4,260.0 L529.1,259.5 L529.8,259.0 L530.5,258.5 L531.2,258.0 L531.9,257.5 L532.5,257.0 L533.2,256.6 L533.9,256.1 L534.6,255.7 L535.3,255.3 L536.0,254.8 L536.6,254.4 L537.3,254.0 L538.0,253.6 L538.7,253.2 L539.4,252.7 L540.1,252.3 L540.8,251.9 L541.4,251.5 L542.1,251.0 L542.8,250.6 L543.5,250.2 L544.2,249.8 L544.9,249.4 L545.5,249.0 L546.2,248.7 L546.9,248.4 L547.6,248.1 L548.3,247.8 L549.0,247.6 L549.7,247.4 L550.3,247.3 L551.0,247.1 L551.7,247.0 L552.4,246.8 L553.1,246.7 L553.8,246.6 L554.5,246.5 L555.1,246.4 L555.8,246.2 L556.5,246.1 L557.2,246.0 L557.9,245.9 L558.6,245.7 L559.2,245.6 L559.9,245.4 L560.6,245.3 L561.3,245.1 L562.0,244.8 L562.7,244.6 L563.4,244.4 L564.0,244.1 L564.7,243.8 L565.4,243.5 L566.1,243.3 L566.8,243.0 L567.5,242.7 L568.2,242.4 L568.8,242.2 L569.5,241.9 L570.2,241.7 L570.9,241.5 L571.6,241.3 L572.3,241.2 L573.0,241.0 L573.6,240.9 L574.3,240.9 L575.0,240.9 L575.7,240.9 L576.4,241.1 L577.1,241.3 L577.7,241.6 L578.4,241.9 L579.1,242.3 L579.8,242.7 L580.5,243.1 L581.2,243.5 L581.9,243.8 L582.5,244.2 L583.2,244.5 L583.9,244.8 L584.6,245.1 L585.3,245.4 L586.0,245.6 L586.6,245.9 L587.3,246.2 L588.0,246.5 L588.7,246.8 L589.4,247.1 L590.1,247.4 L590.8,247.7 L591.4,248.0 L592.1,248.3 L592.8,248.6 L593.5,249.0 L594.2,249.3 L594.9,249.7 L595.6,250.0 L596.2,250.4 L596.9,250.8 L597.6,251.2 L598.3,251.6 L599.0,252.0 L599.7,252.5 L600.4,253.0 L601.0,253.5 L601.7,254.0 L602.4,254.5 L603.1,255.0 L603.8,255.6 L604.5,256.1 L605.1,256.6 L605.8,257.2 L606.5,257.7 L607.2,258.3 L607.9,258.8 L608.6,259.3 L609.3,259.8 L609.9,260.3 L610.6,260.9 L611.3,261.4 L612.0,262.0 L612.7,262.5 L613.4,263.1 L614.1,263.6 L614.7,264.1 L615.4,264.7 L616.1,265.2 L616.8,265.7 L617.5,266.1 L618.2,266.6 L618.8,267.0 L619.5,267.5 L620.2,267.8 L620.9,268.2 L621.6,268.6 L622.3,268.9 L623.0,269.3 L623.6,269.6 L624.3,269.9 L625.0,270.3 L625.7,270.6 L626.4,270.9 L627.1,271.2 L627.8,271.6 L628.4,271.9 L629.1,272.3 L629.8,272.6 L630.5,273.0 L631.2,273.3 L631.9,273.6 L632.5,274.0 L633.2,274.3 L633.9,274.6 L634.6,274.9 L635.3,275.2 L636.0,275.5 L636.7,275.8 L637.3,276.1 L638.0,276.4 L638.7,276.7 L639.4,276.9 L640.1,277.2 L640.8,277.5 L641.5,277.8 L642.1,278.0 L642.8,278.3 L643.5,278.5 L644.2,278.8 L644.9,279.0 L645.6,279.2 L646.2,279.5 L646.9,279.7 L647.6,279.9 L648.3,280.1 L649.0,280.2 L649.7,280.4 L650.4,280.6 L651.0,280.7 L651.7,280.9 L652.4,281.1 L653.1,281.2 L653.8,281.4 L654.5,281.5 L655.2,281.7 L655.8,281.8 L656.5,282.0 L657.2,282.1 L657.9,282.2 L658.6,282.3 L659.3,282.4 L659.9,282.5 L660.6,282.6 L661.3,282.7 L662.0,282.8 L662.7,282.9 L663.4,282.9 L664.1,283.0 L664.7,283.1 L665.4,283.1 L666.1,283.2 L666.8,283.2 L667.5,283.3 L668.2,283.3 L668.9,283.3 L669.5,283.4 L670.2,283.4 L670.9,283.5 L671.6,283.5 L672.3,283.6 L673.0,283.6 L673.6,283.6 L674.3,283.7 L675.0,283.7 L675.7,283.8" fill="none" stroke="#bdbdbd" stroke-width="1.2" stroke-linejoin="round" />
<path d="M575.0,240.4 L575.7,240.8 L576.4,241.1 L577.1,241.4 L577.7,241.8 L578.4,242.1 L579.1,242.5 L579.8,242.8 L580.5,243.2 L581.2,243.5 L581.9,243.8 L582.5,244.2 L583.2,244.5 L583.9,244.8 L584.6,245.1 L585.3,245.4 L586.0,245.7 L586.6,246.0 L587.3,246.3 L588.0,246.6 L588.7,246.9 L589.4,247.2 L590.1,247.5 L590.8,247.8 L591.4,248.1 L592.1,248.4 L592.8,248.7 L593.5,249.0 L594.2,249.3 L594.9,249.7 L595.6,250.0 L596.2,250.4 L596.9,250.8 L597.6,251.2 L598.3,251.6 L599.0,252.0 L599.7,252.5 L600.4,253.0 L601.0,253.5 L601.7,254.0 L602.4,254.5 L603.1,255.0 L603.8,255.6 L604.5,256.1 L605.1,256.6 L605.8,257.2 L606.5,257.7 L607.2,258.3 L607.9,258.8 L608.6,259.3 L609.3,259.8 L609.9,260.3 L610.6,260.9 L611.3,261.4 L612.0,262.0 L612.7,262.5 L613.4,263.1 L614.1,263.6 L614.7,264.1 L615.4,264.7 L616.1,265.2 L616.8,265.7 L617.5,266.1 L618.2,266.6 L618.8,267.0 L619.5,267.5 L620.2,267.8 L620.9,268.2 L621.6,268.6 L622.3,268.9 L623.0,269.3 L623.6,269.6 L624.3,269.9 L625.0,270.3 L625.7,270.6 L626.4,270.9 L627.1,271.2 L627.8,271.6 L628.4,271.9 L629.1,272.3 L629.8,272.6 L630.5,273.0 L631.2,273.3 L631.9,273.6 L632.5,274.0 L633.2,274.3 L633.9,274.6 L634.6,274.9 L635.3,275.2 L636.0,275.5 L636.7,275.8 L637.3,276.1 L638.0,276.4 L638.7,276.7 L639.4,276.9 L640.1,277.2 L640.8,277.5 L641.5,277.8 L642.1,278.0 L642.8,278.3 L643.5,278.5 L644.2,278.8 L644.9,279.0 L645.6,279.2 L646.2,279.5 L646.9,279.7 L647.6,279.9 L648.3,280.1 L649.0,280.2 L649.7,280.4 L650.4,280.6 L651.0,280.7 L651.7,280.9 L652.4,281.1 L653.1,281.2 L653.8,281.4 L654.5,281.5 L655.2,281.7 L655.8,281.8 L656.5,282.0 L657.2,282.1 L657.9,282.2 L658.6,282.3 L659.3,282.4 L659.9,282.5 L660.6,282.6 L661.3,282.7 L662.0,282.8 L662.7,282.9 L663.4,282.9 L664.1,283.0 L664.7,283.1 L665.4,283.1 L666.1,283.2 L666.8,283.2 L667.5,283.3 L668.2,283.3 L668.9,283.3 L669.5,283.4 L670.2,283.4 L670.9,283.5 L671.6,283.5 L672.3,283.6 L673.0,283.6 L673.6,283.6 L674.3,283.7 L675.0,283.7 L675.7,283.8" fill="none" stroke="#c4c4c4" stroke-width="1.9" stroke-linejoin="round" />
<path d="M514.7,271.3 L515.4,271.4 L516.1,271.6 L516.8,271.7 L517.5,271.8 L518.1,271.8 L518.8,271.8 L519.5,271.3 L520.2,270.5 L520.9,269.5 L521.6,268.4 L522.3,267.3 L522.9,266.4 L523.6,265.7 L524.3,265.5 L525.0,266.0 L525.7,267.2 L526.4,268.3 L527.1,268.7 L527.7,268.6 L528.4,268.5 L529.1,268.3 L529.8,268.1 L530.5,267.8 L531.2,267.5 L531.9,267.2 L532.5,266.9 L533.2,266.3 L533.9,265.7 L534.6,265.0 L535.3,264.3 L536.0,263.7 L536.6,263.2 L537.3,262.9 L538.0,262.8 L538.7,262.6 L539.4,262.5 L540.1,262.5 L540.8,262.4 L541.4,262.3 L542.1,262.3 L542.8,262.2 L543.5,262.1 L544.2,262.1 L544.9,262.0 L545.5,261.9 L546.2,261.8 L546.9,261.7 L547.6,261.6 L548.3,261.5 L549.0,261.4 L549.7,261.3 L550.3,261.2 L551.0,261.1 L551.7,261.0 L552.4,260.9 L553.1,260.8 L553.8,260.7 L554.5,260.6 L555.1,260.5 L555.8,260.4 L556.5,260.3 L557.2,260.2 L557.9,260.2 L558.6,260.1 L559.2,260.0 L559.9,260.0 L560.6,259.9 L561.3,259.9 L562.0,259.8 L562.7,259.8 L563.4,259.7 L564.0,259.7 L564.7,259.7 L565.4,259.6 L566.1,259.6 L566.8,259.5 L567.5,259.5 L568.2,259.5 L568.8,259.4 L569.5,259.4 L570.2,259.4 L570.9,259.4 L571.6,259.3 L572.3,259.3 L573.0,259.3 L573.6,259.3 L574.3,259.3 L575.0,259.3 L575.7,259.3 L576.4,259.3 L577.1,259.3 L577.7,259.4 L578.4,259.4 L579.1,259.4 L579.8,259.5 L580.5,259.6 L581.2,259.6 L581.9,259.7 L582.5,259.8 L583.2,259.9 L583.9,260.0 L584.6,260.0 L585.3,260.1 L586.0,260.2 L586.6,260.3 L587.3,260.4 L588.0,260.5 L588.7,260.6 L589.4,260.6 L590.1,260.7 L590.8,260.8 L591.4,260.9 L592.1,261.0 L592.8,261.1 L593.5,261.2 L594.2,261.3 L594.9,261.4 L595.6,261.5 L596.2,261.6 L596.9,261.7 L597.6,261.9 L598.3,262.0 L599.0,262.1 L599.7,262.3 L600.4,262.4 L601.0,262.6 L601.7,262.7 L602.4,262.9 L603.1,263.0 L603.8,263.2 L604.5,263.3 L605.1,263.5 L605.8,263.6 L606.5,263.7 L607.2,263.9 L607.9,264.0 L608.6,264.2 L609.3,264.3 L609.9,264.5 L610.6,264.6 L611.3,264.8 L612.0,264.9 L612.7,265.1 L613.4,265.2 L614.1,265.4 L614.7,265.5 L615.4,265.7 L616.1,265.9 L616.8,266.0 L617.5,266.2 L618.2,266.4 L618.8,266.6 L619.5,266.8 L620.2,266.9 L620.9,267.1 L621.6,267.3 L622.3,267.5 L623.0,267.7 L623.6,268.0 L624.3,268.2 L625.0,268.4 L625.7,268.6 L626.4,268.8 L627.1,269.1 L627.8,269.3 L628.4,269.5 L629.1,269.7 L629.8,270.0 L630.5,270.2 L631.2,270.5 L631.9,270.7 L632.5,270.9 L633.2,271.2 L633.9,271.4 L634.6,271.7 L635.3,271.9 L636.0,272.2 L636.7,272.5 L637.3,272.7 L638.0,273.0 L638.7,273.3 L639.4,273.6 L640.1,273.9 L640.8,274.2 L641.5,274.5 L642.1,274.7 L642.8,275.0 L643.5,275.3 L644.2,275.6 L644.9,275.9 L645.6,276.2 L646.2,276.5 L646.9,276.7 L647.6,277.0 L648.3,277.2 L649.0,277.4 L649.7,277.7 L650.4,277.9 L651.0,278.1 L651.7,278.3 L652.4,278.5 L653.1,278.7 L653.8,278.9 L654.5,279.1 L655.2,279.3 L655.8,279.5 L656.5,279.7 L657.2,279.9 L657.9,280.1 L658.6,280.3 L659.3,280.5 L659.9,280.7 L660.6,280.8 L661.3,281.0 L662.0,281.2 L662.7,281.4 L663.4,281.6 L664.1,281.8 L664.7,282.0 L665.4,282.1 L666.1,282.3 L666.8,282.5 L667.5,282.7 L668.2,282.9 L668.9,283.0 L669.5,283.2 L670.2,283.4 L670.9,283.6 L671.6,283.8 L672.3,283.9 L673.0,284.1 L673.6,284.3 L674.3,284.5 L675.0,284.6 L675.7,284.8" fill="none" stroke="#000" stroke-width="1.1" stroke-linejoin="round" />
<path d="M514.7,271.9 L515.4,272.0 L516.1,272.1 L516.8,272.3 L517.5,272.3 L518.1,272.4 L518.8,272.3 L519.5,271.9 L520.2,271.1 L520.9,270.1 L521.6,269.0 L522.3,267.9 L522.9,267.0 L523.6,266.3 L524.3,266.1 L525.0,266.6 L525.7,267.8 L526.4,268.9 L527.1,269.2 L527.7,269.2 L528.4,269.1 L529.1,268.9 L529.8,268.6 L530.5,268.4 L531.2,268.1 L531.9,267.8 L532.5,267.5 L533.2,266.9 L533.9,266.3 L534.6,265.6 L535.3,264.9 L536.0,264.3 L536.6,263.8 L537.3,263.5 L538.0,263.4 L538.7,263.2 L539.4,263.1 L540.1,263.0 L540.8,263.0 L541.4,262.9 L542.1,262.8 L542.8,262.8 L543.5,262.7 L544.2,262.6 L544.9,262.6 L545.5,262.5 L546.2,262.4 L546.9,262.3 L547.6,262.2 L548.3,262.1 L549.0,262.0 L549.7,261.9 L550.3,261.8 L551.0,261.7 L551.7,261.6 L552.4,261.5 L553.1,261.4 L553.8,261.3 L554.5,261.2 L555.1,261.1 L555.8,261.0 L556.5,260.9 L557.2,260.8 L557.9,260.7 L558.6,260.7 L559.2,260.6 L559.9,260.6 L560.6,260.5 L561.3,260.5 L562.0,260.4 L562.7,260.4 L563.4,260.3 L564.0,260.3 L564.7,260.2 L565.4,260.2 L566.1,260.2 L566.8,260.1 L567.5,260.1 L568.2,260.1 L568.8,260.0 L569.5,260.0 L570.2,260.0 L570.9,259.9 L571.6,259.9 L572.3,259.9 L573.0,259.9 L573.6,259.9 L574.3,259.9 L575.0,259.9 L575.7,259.9 L576.4,259.9 L577.1,259.9 L577.7,259.9 L578.4,260.0 L579.1,260.0 L579.8,260.1 L580.5,260.2 L581.2,260.2 L581.9,260.3 L582.5,260.4 L583.2,260.5 L583.9,260.5 L584.6,260.6 L585.3,260.7 L586.0,260.8 L586.6,260.9 L587.3,261.0 L588.0,261.1 L588.7,261.1 L589.4,261.2 L590.1,261.3 L590.8,261.4 L591.4,261.5 L592.1,261.6 L592.8,261.7 L593.5,261.8 L594.2,261.9 L594.9,262.0 L595.6,262.1 L596.2,262.2 L596.9,262.3 L597.6,262.5 L598.3,262.6 L599.0,262.7 L599.7,262.9 L600.4,263.0 L601.0,263.2 L601.7,263.3 L602.4,263.5 L603.1,263.6 L603.8,263.7 L604.5,263.9 L605.1,264.0 L605.8,264.2 L606.5,264.3 L607.2,264.5 L607.9,264.6 L608.6,264.8 L609.3,264.9 L609.9,265.1 L610.6,265.2 L611.3,265.4 L612.0,265.5 L612.7,265.7 L613.4,265.8 L614.1,266.0 L614.7,266.1 L615.4,266.3 L616.1,266.5 L616.8,266.6 L617.5,266.8 L618.2,267.0 L618.8,267.2 L619.5,267.3 L620.2,267.5 L620.9,267.7 L621.6,267.9 L622.3,268.1 L623.0,268.3 L623.6,268.5 L624.3,268.7 L625.0,269.0 L625.7,269.2 L626.4,269.4 L627.1,269.6 L627.8,269.9 L628.4,270.1 L629.1,270.3 L629.8,270.6 L630.5,270.8 L631.2,271.0 L631.9,271.3 L632.5,271.5 L633.2,271.8 L633.9,272.0 L634.6,272.3 L635.3,272.5 L636.0,272.8 L636.7,273.0 L637.3,273.3 L638.0,273.6 L638.7,273.9 L639.4,274.2 L640.1,274.4 L640.8,274.7 L641.5,275.0 L642.1,275.3 L642.8,275.6 L643.5,275.9 L644.2,276.2 L644.9,276.5 L645.6,276.8 L646.2,277.0 L646.9,277.3 L647.6,277.6 L648.3,277.8 L649.0,278.0 L649.7,278.3 L650.4,278.5 L651.0,278.7 L651.7,278.9 L652.4,279.1 L653.1,279.3 L653.8,279.5 L654.5,279.7 L655.2,279.9 L655.8,280.1 L656.5,280.3 L657.2,280.5 L657.9,280.7 L658.6,280.9 L659.3,281.1 L659.9,281.2 L660.6,281.4 L661.3,281.6 L662.0,281.8 L662.7,282.0 L663.4,282.2 L664.1,282.4 L664.7,282.5 L665.4,282.7 L666.1,282.9 L666.8,283.1 L667.5,283.3 L668.2,283.5 L668.9,283.6 L669.5,283.8 L670.2,284.0 L670.9,284.2 L671.6,284.3 L672.3,284.5 L673.0,284.7 L673.6,284.9 L674.3,285.1 L675.0,285.2 L675.7,285.4" fill="none" stroke="#000" stroke-width="1.4" stroke-linejoin="round" />
<path d="M514.7,272.5 L515.4,272.6 L516.1,272.7 L516.8,272.8 L517.5,272.9 L518.1,273.0 L518.8,272.9 L519.5,272.5 L520.2,271.7 L520.9,270.7 L521.6,269.5 L522.3,268.5 L522.9,267.5 L523.6,266.9 L524.3,266.7 L525.0,267.2 L525.7,268.4 L526.4,269.5 L527.1,269.8 L527.7,269.8 L528.4,269.6 L529.1,269.5 L529.8,269.2 L530.5,269.0 L531.2,268.7 L531.9,268.4 L532.5,268.0 L533.2,267.5 L533.9,266.9 L534.6,266.2 L535.3,265.5 L536.0,264.8 L536.6,264.4 L537.3,264.1 L538.0,263.9 L538.7,263.8 L539.4,263.7 L540.1,263.6 L540.8,263.6 L541.4,263.5 L542.1,263.4 L542.8,263.4 L543.5,263.3 L544.2,263.2 L544.9,263.1 L545.5,263.1 L546.2,263.0 L546.9,262.9 L547.6,262.8 L548.3,262.7 L549.0,262.6 L549.7,262.5 L550.3,262.4 L551.0,262.2 L551.7,262.1 L552.4,262.0 L553.1,261.9 L553.8,261.8 L554.5,261.7 L555.1,261.7 L555.8,261.6 L556.5,261.5 L557.2,261.4 L557.9,261.3 L558.6,261.3 L559.2,261.2 L559.9,261.2 L560.6,261.1 L561.3,261.1 L562.0,261.0 L562.7,261.0 L563.4,260.9 L564.0,260.9 L564.7,260.8 L565.4,260.8 L566.1,260.7 L566.8,260.7 L567.5,260.7 L568.2,260.6 L568.8,260.6 L569.5,260.6 L570.2,260.5 L570.9,260.5 L571.6,260.5 L572.3,260.5 L573.0,260.5 L573.6,260.5 L574.3,260.5 L575.0,260.4 L575.7,260.5 L576.4,260.5 L577.1,260.5 L577.7,260.5 L578.4,260.6 L579.1,260.6 L579.8,260.7 L580.5,260.7 L581.2,260.8 L581.9,260.9 L582.5,261.0 L583.2,261.0 L583.9,261.1 L584.6,261.2 L585.3,261.3 L586.0,261.4 L586.6,261.5 L587.3,261.6 L588.0,261.6 L588.7,261.7 L589.4,261.8 L590.1,261.9 L590.8,262.0 L591.4,262.1 L592.1,262.2 L592.8,262.3 L593.5,262.3 L594.2,262.5 L594.9,262.6 L595.6,262.7 L596.2,262.8 L596.9,262.9 L597.6,263.0 L598.3,263.2 L599.0,263.3 L599.7,263.5 L600.4,263.6 L601.0,263.7 L601.7,263.9 L602.4,264.0 L603.1,264.2 L603.8,264.3 L604.5,264.5 L605.1,264.6 L605.8,264.8 L606.5,264.9 L607.2,265.1 L607.9,265.2 L608.6,265.4 L609.3,265.5 L609.9,265.6 L610.6,265.8 L611.3,265.9 L612.0,266.1 L612.7,266.2 L613.4,266.4 L614.1,266.6 L614.7,266.7 L615.4,266.9 L616.1,267.0 L616.8,267.2 L617.5,267.4 L618.2,267.6 L618.8,267.7 L619.5,267.9 L620.2,268.1 L620.9,268.3 L621.6,268.5 L622.3,268.7 L623.0,268.9 L623.6,269.1 L624.3,269.3 L625.0,269.6 L625.7,269.8 L626.4,270.0 L627.1,270.2 L627.8,270.5 L628.4,270.7 L629.1,270.9 L629.8,271.2 L630.5,271.4 L631.2,271.6 L631.9,271.9 L632.5,272.1 L633.2,272.4 L633.9,272.6 L634.6,272.9 L635.3,273.1 L636.0,273.4 L636.7,273.6 L637.3,273.9 L638.0,274.2 L638.7,274.5 L639.4,274.7 L640.1,275.0 L640.8,275.3 L641.5,275.6 L642.1,275.9 L642.8,276.2 L643.5,276.5 L644.2,276.8 L644.9,277.1 L645.6,277.4 L646.2,277.6 L646.9,277.9 L647.6,278.1 L648.3,278.4 L649.0,278.6 L649.7,278.8 L650.4,279.1 L651.0,279.3 L651.7,279.5 L652.4,279.7 L653.1,279.9 L653.8,280.1 L654.5,280.3 L655.2,280.5 L655.8,280.7 L656.5,280.9 L657.2,281.1 L657.9,281.3 L658.6,281.5 L659.3,281.6 L659.9,281.8 L660.6,282.0 L661.3,282.2 L662.0,282.4 L662.7,282.6 L663.4,282.8 L664.1,283.0 L664.7,283.1 L665.4,283.3 L666.1,283.5 L666.8,283.7 L667.5,283.9 L668.2,284.0 L668.9,284.2 L669.5,284.4 L670.2,284.6 L670.9,284.8 L671.6,284.9 L672.3,285.1 L673.0,285.3 L673.6,285.5 L674.3,285.6 L675.0,285.8 L675.7,286.0" fill="none" stroke="#000" stroke-width="1.1" stroke-linejoin="round" />
<path d="M511.3,281.0 L512.0,279.9 L512.7,278.9 L513.4,277.9 L514.0,276.8 L514.7,275.8 L515.4,274.8 L516.1,273.7 L516.8,272.7 L517.5,271.7 L518.1,270.6 L518.8,269.6 L519.5,268.6 L520.2,267.6 L520.9,266.7 L521.6,265.7 L522.3,264.8 L522.9,263.9 L523.6,263.0 L524.3,262.2 L525.0,261.3 L525.7,260.5 L526.4,259.6 L527.1,258.8 L527.7,257.9 L528.4,257.0 L529.1,256.1 L529.8,255.2 L530.5,254.3 L531.2,253.3 L531.9,252.3 L532.5,251.2 L533.2,250.2 L533.9,249.1 L534.6,248.1 L535.3,247.0 L536.0,246.0 L536.6,244.9 L537.3,244.0 L538.0,243.0 L538.7,242.1 L539.4,241.3 L540.1,240.5 L540.8,239.7 L541.4,238.9 L542.1,238.1 L542.8,237.3 L543.5,236.6 L544.2,235.9 L544.9,235.2 L545.5,234.5 L546.2,233.8 L546.9,233.1 L547.6,232.4 L548.3,231.8 L549.0,231.1 L549.7,230.5 L550.3,229.9 L551.0,229.3 L551.7,228.6 L552.4,228.0 L553.1,227.3 L553.8,226.6 L554.5,226.0 L555.1,225.4 L555.8,224.9 L556.5,224.5 L557.2,224.2 L557.9,224.0 L558.6,223.9 L559.2,223.7 L559.9,223.6 L560.6,223.5 L561.3,223.4 L562.0,223.3 L562.7,223.2 L563.4,223.1 L564.0,223.1 L564.7,223.0 L565.4,223.0 L566.1,222.9 L566.8,222.9 L567.5,222.9 L568.2,222.9 L568.8,222.9 L569.5,222.9 L570.2,222.8 L570.9,222.8 L571.6,222.8 L572.3,222.8 L573.0,222.8 L573.6,222.8 L574.3,222.7 L575.0,222.7 L575.7,222.7 L576.4,222.7 L577.1,222.7 L577.7,222.7 L578.4,222.7 L579.1,222.6 L579.8,222.6 L580.5,222.6 L581.2,222.6 L581.9,222.6 L582.5,222.6 L583.2,222.6 L583.9,222.6 L584.6,222.6 L585.3,222.5 L586.0,222.5 L586.6,222.5 L587.3,222.5 L588.0,222.5 L588.7,222.5 L589.4,222.5 L590.1,222.5 L590.8,222.5 L591.4,222.5 L592.1,222.5 L592.8,222.5 L593.5,222.5 L594.2,222.4 L594.9,222.4 L595.6,222.4 L596.2,222.4 L596.9,222.4 L597.6,222.4 L598.3,222.4 L599.0,222.4 L599.7,222.4 L600.4,222.4 L601.0,222.4 L601.7,222.4 L602.4,222.4 L603.1,222.4 L603.8,222.4 L604.5,222.4 L605.1,222.4 L605.8,222.4 L606.5,222.4 L607.2,222.4 L607.9,222.4 L608.6,222.4 L609.3,222.4 L609.9,222.4 L610.6,222.4 L611.3,222.4 L612.0,222.4 L612.7,222.4 L613.4,222.4 L614.1,222.4 L614.7,222.4 L615.4,222.4 L616.1,222.4 L616.8,222.4 L617.5,222.4 L618.2,222.4 L618.8,222.4 L619.5,222.4 L620.2,222.4 L620.9,222.4 L621.6,222.4 L622.3,222.4 L623.0,222.4 L623.6,222.4 L624.3,222.4 L625.0,222.4 L625.7,222.4 L626.4,222.4 L627.1,222.4 L627.8,222.4 L628.4,222.4 L629.1,222.4 L629.8,222.4 L630.5,222.4 L631.2,222.4 L631.9,222.4 L632.5,222.4 L633.2,222.4 L633.9,222.4 L634.6,222.4 L635.3,222.4 L636.0,222.4 L636.7,222.4 L637.3,222.4 L638.0,222.4 L638.7,222.4 L639.4,222.4 L640.1,222.4 L640.8,222.4 L641.5,222.4 L642.1,222.4 L642.8,222.4 L643.5,222.4 L644.2,222.4 L644.9,222.4 L645.6,222.4 L646.2,222.4 L646.9,222.4 L647.6,222.4 L648.3,222.4 L649.0,222.4 L649.7,222.4 L650.4,222.4 L651.0,222.4 L651.7,222.4 L652.4,222.4 L653.1,222.4 L653.8,222.4 L654.5,222.4 L655.2,222.4 L655.8,222.4 L656.5,222.4 L657.2,222.4 L657.9,222.4 L658.6,222.4 L659.3,222.4 L659.9,222.4 L660.6,222.4 L661.3,222.4 L662.0,222.4 L662.7,222.4 L663.4,222.4 L664.1,222.4 L664.7,222.4 L665.4,222.4 L666.1,222.4 L666.8,222.4 L667.5,222.4 L668.2,222.4 L668.9,222.4 L669.5,222.4 L670.2,222.4 L670.9,222.4 L671.6,222.4 L672.3,222.4 L673.0,222.4 L673.6,222.4 L674.3,222.4 L675.0,222.4 L675.7,222.4" fill="none" stroke="#d2a8dc" stroke-width="1.2" stroke-linejoin="round" />
<path d="M511.3,280.0 L512.0,277.7 L512.7,275.4 L513.4,273.8 L514.0,272.7 L514.7,271.6 L515.4,270.8 L516.1,270.0 L516.8,269.2 L517.5,268.6 L518.1,267.9 L518.8,267.2 L519.5,266.5 L520.2,265.7 L520.9,264.8 L521.6,263.8 L522.3,262.7 L522.9,261.6 L523.6,260.5 L524.3,259.3 L525.0,258.1 L525.7,256.9 L526.4,255.7 L527.1,254.5 L527.7,253.3 L528.4,252.2 L529.1,251.1 L529.8,249.9 L530.5,248.8 L531.2,247.6 L531.9,246.5 L532.5,245.4 L533.2,244.3 L533.9,243.3 L534.6,242.3 L535.3,241.3 L536.0,240.2 L536.6,239.2 L537.3,238.2 L538.0,237.2 L538.7,236.3 L539.4,235.4 L540.1,234.5 L540.8,233.7 L541.4,233.0 L542.1,232.3 L542.8,231.7 L543.5,231.1 L544.2,230.5 L544.9,229.9 L545.5,229.4 L546.2,228.9 L546.9,228.4 L547.6,228.0 L548.3,227.6 L549.0,227.2 L549.7,226.9 L550.3,226.6 L551.0,226.2 L551.7,225.9 L552.4,225.7 L553.1,225.4 L553.8,225.2 L554.5,225.1 L555.1,224.9 L555.8,224.9 L556.5,224.8 L557.2,224.7 L557.9,224.6 L558.6,224.6 L559.2,224.5 L559.9,224.4 L560.6,224.4 L561.3,224.3 L562.0,224.3 L562.7,224.2 L563.4,224.2 L564.0,224.2 L564.7,224.2 L565.4,224.2 L566.1,224.2 L566.8,224.2 L567.5,224.2 L568.2,224.2 L568.8,224.2 L569.5,224.2 L570.2,224.2 L570.9,224.2 L571.6,224.2 L572.3,224.2 L573.0,224.2 L573.6,224.2 L574.3,224.2 L575.0,224.2 L575.7,224.2 L576.4,224.2 L577.1,224.2 L577.7,224.2 L578.4,224.2 L579.1,224.2 L579.8,224.2 L580.5,224.2 L581.2,224.2 L581.9,224.2 L582.5,224.2 L583.2,224.2 L583.9,224.2 L584.6,224.2 L585.3,224.2 L586.0,224.2 L586.6,224.2 L587.3,224.2 L588.0,224.2 L588.7,224.3 L589.4,224.3 L590.1,224.3 L590.8,224.3 L591.4,224.3 L592.1,224.3 L592.8,224.3 L593.5,224.3 L594.2,224.3 L594.9,224.3 L595.6,224.3 L596.2,224.3 L596.9,224.3 L597.6,224.3 L598.3,224.3 L599.0,224.3 L599.7,224.3 L600.4,224.3 L601.0,224.3 L601.7,224.3 L602.4,224.3 L603.1,224.3 L603.8,224.4 L604.5,224.4 L605.1,224.4 L605.8,224.4 L606.5,224.4 L607.2,224.4 L607.9,224.4 L608.6,224.4 L609.3,224.4 L609.9,224.4 L610.6,224.4 L611.3,224.4 L612.0,224.4 L612.7,224.4 L613.4,224.4 L614.1,224.4 L614.7,224.4 L615.4,224.4 L616.1,224.4 L616.8,224.4 L617.5,224.4 L618.2,224.4 L618.8,224.4 L619.5,224.4 L620.2,224.4 L620.9,224.4 L621.6,224.4 L622.3,224.4 L623.0,224.4 L623.6,224.4 L624.3,224.4 L625.0,224.4 L625.7,224.4 L626.4,224.4 L627.1,224.5 L627.8,224.5 L628.4,224.5 L629.1,224.5 L629.8,224.5 L630.5,224.5 L631.2,224.5 L631.9,224.5 L632.5,224.5 L633.2,224.5 L633.9,224.5 L634.6,224.5 L635.3,224.5 L636.0,224.5 L636.7,224.5 L637.3,224.5 L638.0,224.5 L638.7,224.5 L639.4,224.5 L640.1,224.5 L640.8,224.5 L641.5,224.5 L642.1,224.5 L642.8,224.5 L643.5,224.5 L644.2,224.5 L644.9,224.5 L645.6,224.5 L646.2,224.5 L646.9,224.5 L647.6,224.5 L648.3,224.5 L649.0,224.5 L649.7,224.5 L650.4,224.5 L651.0,224.5 L651.7,224.5 L652.4,224.5 L653.1,224.5 L653.8,224.5 L654.5,224.5 L655.2,224.5 L655.8,224.5 L656.5,224.5 L657.2,224.5 L657.9,224.5 L658.6,224.5 L659.3,224.5 L659.9,224.5 L660.6,224.5 L661.3,224.5 L662.0,224.5 L662.7,224.6 L663.4,224.6 L664.1,224.6 L664.7,224.6 L665.4,224.6 L666.1,224.6 L666.8,224.6 L667.5,224.6 L668.2,224.6 L668.9,224.6 L669.5,224.6 L670.2,224.6 L670.9,224.6 L671.6,224.6 L672.3,224.6 L673.0,224.6 L673.6,224.6 L674.3,224.6 L675.0,224.6 L675.7,224.6" fill="none" stroke="#f5cfdc" stroke-width="1.6" stroke-linejoin="round" />
<path d="M511.3,278.6 L512.0,276.3 L512.7,274.1 L513.4,272.4 L514.0,271.0 L514.7,269.7 L515.4,268.5 L516.1,267.3 L516.8,266.3 L517.5,265.2 L518.1,264.2 L518.8,263.3 L519.5,262.4 L520.2,261.5 L520.9,260.7 L521.6,259.9 L522.3,259.1 L522.9,258.4 L523.6,257.6 L524.3,256.9 L525.0,256.1 L525.7,255.4 L526.4,254.6 L527.1,253.8 L527.7,253.0 L528.4,252.2 L529.1,251.4 L529.8,250.6 L530.5,249.7 L531.2,248.9 L531.9,248.1 L532.5,247.3 L533.2,246.5 L533.9,245.7 L534.6,244.9 L535.3,244.1 L536.0,243.4 L536.6,242.7 L537.3,242.0 L538.0,241.3 L538.7,240.7 L539.4,240.1 L540.1,239.5 L540.8,239.0 L541.4,238.5 L542.1,238.1 L542.8,237.6 L543.5,237.1 L544.2,236.7 L544.9,236.3 L545.5,235.9 L546.2,235.5 L546.9,235.2 L547.6,234.9 L548.3,234.6 L549.0,234.4 L549.7,234.2 L550.3,234.1 L551.0,233.9 L551.7,233.8 L552.4,233.6 L553.1,233.5 L553.8,233.4 L554.5,233.3 L555.1,233.2 L555.8,233.1 L556.5,233.0 L557.2,232.9 L557.9,232.8 L558.6,232.7 L559.2,232.6 L559.9,232.5 L560.6,232.4 L561.3,232.3 L562.0,232.2 L562.7,232.1 L563.4,232.0 L564.0,231.8 L564.7,231.7 L565.4,231.6 L566.1,231.4 L566.8,231.3 L567.5,231.1 L568.2,231.0 L568.8,230.9 L569.5,230.7 L570.2,230.6 L570.9,230.5 L571.6,230.3 L572.3,230.2 L573.0,230.1 L573.6,229.9 L574.3,229.8 L575.0,229.7 L575.7,229.6 L576.4,229.4 L577.1,229.3 L577.7,229.2 L578.4,229.1 L579.1,229.0 L579.8,228.9 L580.5,228.7 L581.2,228.6 L581.9,228.5 L582.5,228.4 L583.2,228.3 L583.9,228.1 L584.6,228.0 L585.3,227.9 L586.0,227.8 L586.6,227.7 L587.3,227.6 L588.0,227.5 L588.7,227.4 L589.4,227.3 L590.1,227.2 L590.8,227.1 L591.4,227.0 L592.1,226.9 L592.8,226.8 L593.5,226.7 L594.2,226.6 L594.9,226.5 L595.6,226.4 L596.2,226.3 L596.9,226.2 L597.6,226.1 L598.3,226.1 L599.0,226.0 L599.7,225.9 L600.4,225.8 L601.0,225.8 L601.7,225.7 L602.4,225.6 L603.1,225.5 L603.8,225.5 L604.5,225.4 L605.1,225.3 L605.8,225.2 L606.5,225.2 L607.2,225.1 L607.9,225.0 L608.6,224.9 L609.3,224.9 L609.9,224.8 L610.6,224.7 L611.3,224.7 L612.0,224.6 L612.7,224.6 L613.4,224.5 L614.1,224.5 L614.7,224.4 L615.4,224.4 L616.1,224.3 L616.8,224.3 L617.5,224.2 L618.2,224.2 L618.8,224.2 L619.5,224.2 L620.2,224.1 L620.9,224.1 L621.6,224.1 L622.3,224.1 L623.0,224.1 L623.6,224.1 L624.3,224.0 L625.0,224.0 L625.7,224.0 L626.4,224.0 L627.1,224.0 L627.8,224.0 L628.4,224.0 L629.1,224.0 L629.8,224.0 L630.5,223.9 L631.2,223.9 L631.9,223.9 L632.5,223.9 L633.2,223.9 L633.9,223.9 L634.6,223.9 L635.3,223.9 L636.0,223.9 L636.7,223.9 L637.3,223.9 L638.0,223.8 L638.7,223.8 L639.4,223.8 L640.1,223.8 L640.8,223.8 L641.5,223.8 L642.1,223.8 L642.8,223.8 L643.5,223.8 L644.2,223.8 L644.9,223.8 L645.6,223.8 L646.2,223.8 L646.9,223.8 L647.6,223.8 L648.3,223.8 L649.0,223.7 L649.7,223.7 L650.4,223.7 L651.0,223.7 L651.7,223.7 L652.4,223.7 L653.1,223.7 L653.8,223.7 L654.5,223.7 L655.2,223.7 L655.8,223.7 L656.5,223.7 L657.2,223.7 L657.9,223.7 L658.6,223.7 L659.3,223.7 L659.9,223.7 L660.6,223.7 L661.3,223.7 L662.0,223.7 L662.7,223.6 L663.4,223.6 L664.1,223.6 L664.7,223.6 L665.4,223.6 L666.1,223.6 L666.8,223.6 L667.5,223.6 L668.2,223.6 L668.9,223.6 L669.5,223.6 L670.2,223.6 L670.9,223.6 L671.6,223.6 L672.3,223.6 L673.0,223.6 L673.6,223.6 L674.3,223.5 L675.0,223.5 L675.7,223.5" fill="none" stroke="#cbcbcb" stroke-width="1.9" stroke-linejoin="round" stroke-dasharray="3.5,1.5"/>
<path d="M511.3,278.1 L512.0,275.8 L512.7,273.6 L513.4,272.0 L514.0,270.8 L514.7,269.8 L515.4,268.9 L516.1,268.1 L516.8,267.4 L517.5,266.7 L518.1,266.0 L518.8,265.3 L519.5,264.6 L520.2,263.8 L520.9,262.9 L521.6,261.9 L522.3,260.8 L522.9,259.7 L523.6,258.6 L524.3,257.4 L525.0,256.2 L525.7,255.0 L526.4,253.8 L527.1,252.6 L527.7,251.5 L528.4,250.3 L529.1,249.2 L529.8,248.1 L530.5,246.9 L531.2,245.8 L531.9,244.6 L532.5,243.5 L533.2,242.5 L533.9,241.4 L534.6,240.4 L535.3,239.4 L536.0,238.4 L536.6,237.3 L537.3,236.4 L538.0,235.4 L538.7,234.4 L539.4,233.5 L540.1,232.7 L540.8,231.9 L541.4,231.1 L542.1,230.5 L542.8,229.8 L543.5,229.2 L544.2,228.6 L544.9,228.1 L545.5,227.5 L546.2,227.0 L546.9,226.6 L547.6,226.1 L548.3,225.7 L549.0,225.3 L549.7,225.0 L550.3,224.7 L551.0,224.4 L551.7,224.1 L552.4,223.8 L553.1,223.6 L553.8,223.3 L554.5,223.2 L555.1,223.1 L555.8,223.0 L556.5,222.9 L557.2,222.8 L557.9,222.7 L558.6,222.7 L559.2,222.6 L559.9,222.5 L560.6,222.5 L561.3,222.4 L562.0,222.4 L562.7,222.4 L563.4,222.3 L564.0,222.3 L564.7,222.3 L565.4,222.3 L566.1,222.2 L566.8,222.2 L567.5,222.2 L568.2,222.2 L568.8,222.2 L569.5,222.2 L570.2,222.2 L570.9,222.2 L571.6,222.2 L572.3,222.2 L573.0,222.1 L573.6,222.1 L574.3,222.1 L575.0,222.1 L575.7,222.1 L576.4,222.1 L577.1,222.1 L577.7,222.1 L578.4,222.1 L579.1,222.1 L579.8,222.1 L580.5,222.1 L581.2,222.1 L581.9,222.1 L582.5,222.1 L583.2,222.1 L583.9,222.1 L584.6,222.0 L585.3,222.0 L586.0,222.0 L586.6,222.0 L587.3,222.0 L588.0,222.0 L588.7,222.0 L589.4,222.0 L590.1,222.0 L590.8,222.0 L591.4,222.0 L592.1,222.0 L592.8,222.0 L593.5,222.0 L594.2,222.0 L594.9,222.0 L595.6,222.0 L596.2,222.0 L596.9,222.0 L597.6,222.0 L598.3,222.0 L599.0,222.0 L599.7,222.0 L600.4,222.0 L601.0,222.0 L601.7,222.0 L602.4,222.0 L603.1,222.0 L603.8,222.0 L604.5,222.0 L605.1,221.9 L605.8,221.9 L606.5,221.9 L607.2,221.9 L607.9,221.9 L608.6,221.9 L609.3,221.9 L609.9,221.9 L610.6,221.9 L611.3,221.9 L612.0,221.9 L612.7,221.9 L613.4,221.9 L614.1,221.9 L614.7,221.9 L615.4,221.9 L616.1,221.9 L616.8,221.9 L617.5,221.9 L618.2,221.9 L618.8,221.9 L619.5,221.8 L620.2,221.8 L620.9,221.8 L621.6,221.8 L622.3,221.8 L623.0,221.8 L623.6,221.8 L624.3,221.8 L625.0,221.8 L625.7,221.8 L626.4,221.8 L627.1,221.8 L627.8,221.8 L628.4,221.8 L629.1,221.8 L629.8,221.8 L630.5,221.7 L631.2,221.7 L631.9,221.7 L632.5,221.7 L633.2,221.7 L633.9,221.7 L634.6,221.7 L635.3,221.7 L636.0,221.7 L636.7,221.7 L637.3,221.7 L638.0,221.7 L638.7,221.7 L639.4,221.7 L640.1,221.7 L640.8,221.6 L641.5,221.6 L642.1,221.6 L642.8,221.6 L643.5,221.6 L644.2,221.6 L644.9,221.6 L645.6,221.6 L646.2,221.6 L646.9,221.6 L647.6,221.6 L648.3,221.6 L649.0,221.6 L649.7,221.6 L650.4,221.6 L651.0,221.5 L651.7,221.5 L652.4,221.5 L653.1,221.5 L653.8,221.5 L654.5,221.5 L655.2,221.5 L655.8,221.5 L656.5,221.5 L657.2,221.5 L657.9,221.5 L658.6,221.5 L659.3,221.5 L659.9,221.5 L660.6,221.5 L661.3,221.4 L662.0,221.4 L662.7,221.4 L663.4,221.4 L664.1,221.4 L664.7,221.4 L665.4,221.4 L666.1,221.4 L666.8,221.4 L667.5,221.4 L668.2,221.4 L668.9,221.4 L669.5,221.4 L670.2,221.4 L670.9,221.4 L671.6,221.3 L672.3,221.3 L673.0,221.3 L673.6,221.3 L674.3,221.3 L675.0,221.3 L675.7,221.3" fill="none" stroke="#f2bdd0" stroke-width="1.4" stroke-linejoin="round" />
<path d="M511.3,277.2 L512.0,274.9 L512.7,272.6 L513.4,271.0 L514.0,269.8 L514.7,268.8 L515.4,267.9 L516.1,267.1 L516.8,266.4 L517.5,265.8 L518.1,265.1 L518.8,264.4 L519.5,263.7 L520.2,262.9 L520.9,262.0 L521.6,261.0 L522.3,259.9 L522.9,258.8 L523.6,257.6 L524.3,256.5 L525.0,255.3 L525.7,254.1 L526.4,252.9 L527.1,251.7 L527.7,250.5 L528.4,249.4 L529.1,248.3 L529.8,247.1 L530.5,246.0 L531.2,244.8 L531.9,243.7 L532.5,242.6 L533.2,241.5 L533.9,240.5 L534.6,239.5 L535.3,238.4 L536.0,237.4 L536.6,236.4 L537.3,235.4 L538.0,234.4 L538.7,233.5 L539.4,232.6 L540.1,231.7 L540.8,230.9 L541.4,230.2 L542.1,229.5 L542.8,228.9 L543.5,228.3 L544.2,227.7 L544.9,227.1 L545.5,226.6 L546.2,226.1 L546.9,225.6 L547.6,225.2 L548.3,224.8 L549.0,224.4 L549.7,224.1 L550.3,223.7 L551.0,223.4 L551.7,223.1 L552.4,222.9 L553.1,222.6 L553.8,222.4 L554.5,222.2 L555.1,222.1 L555.8,222.0 L556.5,222.0 L557.2,221.9 L557.9,221.8 L558.6,221.7 L559.2,221.7 L559.9,221.6 L560.6,221.6 L561.3,221.5 L562.0,221.5 L562.7,221.4 L563.4,221.4 L564.0,221.4 L564.7,221.3 L565.4,221.3 L566.1,221.3 L566.8,221.3 L567.5,221.2 L568.2,221.2 L568.8,221.2 L569.5,221.2 L570.2,221.2 L570.9,221.2 L571.6,221.2 L572.3,221.1 L573.0,221.1 L573.6,221.1 L574.3,221.1 L575.0,221.1 L575.7,221.1 L576.4,221.1 L577.1,221.0 L577.7,221.0 L578.4,221.0 L579.1,221.0 L579.8,221.0 L580.5,221.0 L581.2,221.0 L581.9,221.0 L582.5,221.0 L583.2,221.0 L583.9,221.0 L584.6,220.9 L585.3,220.9 L586.0,220.9 L586.6,220.9 L587.3,220.9 L588.0,220.9 L588.7,220.9 L589.4,220.9 L590.1,220.9 L590.8,220.9 L591.4,220.9 L592.1,220.9 L592.8,220.9 L593.5,220.9 L594.2,220.8 L594.9,220.8 L595.6,220.8 L596.2,220.8 L596.9,220.8 L597.6,220.8 L598.3,220.8 L599.0,220.8 L599.7,220.8 L600.4,220.8 L601.0,220.8 L601.7,220.8 L602.4,220.8 L603.1,220.8 L603.8,220.8 L604.5,220.7 L605.1,220.7 L605.8,220.7 L606.5,220.7 L607.2,220.7 L607.9,220.7 L608.6,220.7 L609.3,220.7 L609.9,220.7 L610.6,220.7 L611.3,220.7 L612.0,220.7 L612.7,220.7 L613.4,220.6 L614.1,220.6 L614.7,220.6 L615.4,220.6 L616.1,220.6 L616.8,220.6 L617.5,220.6 L618.2,220.6 L618.8,220.6 L619.5,220.6 L620.2,220.5 L620.9,220.5 L621.6,220.5 L622.3,220.5 L623.0,220.5 L623.6,220.5 L624.3,220.5 L625.0,220.5 L625.7,220.5 L626.4,220.4 L627.1,220.4 L627.8,220.4 L628.4,220.4 L629.1,220.4 L629.8,220.4 L630.5,220.4 L631.2,220.4 L631.9,220.4 L632.5,220.4 L633.2,220.3 L633.9,220.3 L634.6,220.3 L635.3,220.3 L636.0,220.3 L636.7,220.3 L637.3,220.3 L638.0,220.3 L638.7,220.3 L639.4,220.2 L640.1,220.2 L640.8,220.2 L641.5,220.2 L642.1,220.2 L642.8,220.2 L643.5,220.2 L644.2,220.2 L644.9,220.2 L645.6,220.1 L646.2,220.1 L646.9,220.1 L647.6,220.1 L648.3,220.1 L649.0,220.1 L649.7,220.1 L650.4,220.1 L651.0,220.1 L651.7,220.0 L652.4,220.0 L653.1,220.0 L653.8,220.0 L654.5,220.0 L655.2,220.0 L655.8,220.0 L656.5,220.0 L657.2,220.0 L657.9,219.9 L658.6,219.9 L659.3,219.9 L659.9,219.9 L660.6,219.9 L661.3,219.9 L662.0,219.9 L662.7,219.9 L663.4,219.9 L664.1,219.8 L664.7,219.8 L665.4,219.8 L666.1,219.8 L666.8,219.8 L667.5,219.8 L668.2,219.8 L668.9,219.8 L669.5,219.8 L670.2,219.8 L670.9,219.7 L671.6,219.7 L672.3,219.7 L673.0,219.7 L673.6,219.7 L674.3,219.7 L675.0,219.7 L675.7,219.7" fill="none" stroke="#f6d2de" stroke-width="1.3" stroke-linejoin="round" stroke-dasharray="3,1.5"/>
<text x="518.6" y="183.2" font-size="9" text-anchor="start" fill="#000" >MOI</text>
<text x="517.6" y="193" font-size="8.7" text-anchor="start" fill="#000" >Empty vector</text>
<text x="518.6" y="204.7" font-size="8.7" text-anchor="start" fill="#000" >CMoRE</text>
<text x="584.5" y="168.5" font-size="9" text-anchor="start" fill="#000" >Phage T6</text>
<text x="575.9" y="183.2" font-size="9" text-anchor="start" fill="#000" >0</text>
<text x="586.7" y="183.2" font-size="9" text-anchor="start" fill="#000" >0.02</text>
<text x="611.3" y="183.2" font-size="9" text-anchor="start" fill="#000" >2</text>
<line x1="574.2" y1="190.3" x2="584.6" y2="190.3" stroke="#d6d6d6" stroke-width="1.2" stroke-dasharray="4,2"/>
<line x1="589.1" y1="190.3" x2="602.5" y2="190.3" stroke="#c8c8c8" stroke-width="1.2" />
<line x1="607.5" y1="190.3" x2="621.0" y2="190.3" stroke="#1a1a1a" stroke-width="1.3" />
<line x1="574.2" y1="202.5" x2="584.6" y2="202.5" stroke="#f3b6cb" stroke-width="1.2" stroke-dasharray="4,2"/>
<line x1="589.1" y1="202.5" x2="602.5" y2="202.5" stroke="#f0a9c2" stroke-width="1.2" />
<line x1="607.5" y1="202.5" x2="621.0" y2="202.5" stroke="#d6a6d6" stroke-width="1.3" />
</svg></body></html>
